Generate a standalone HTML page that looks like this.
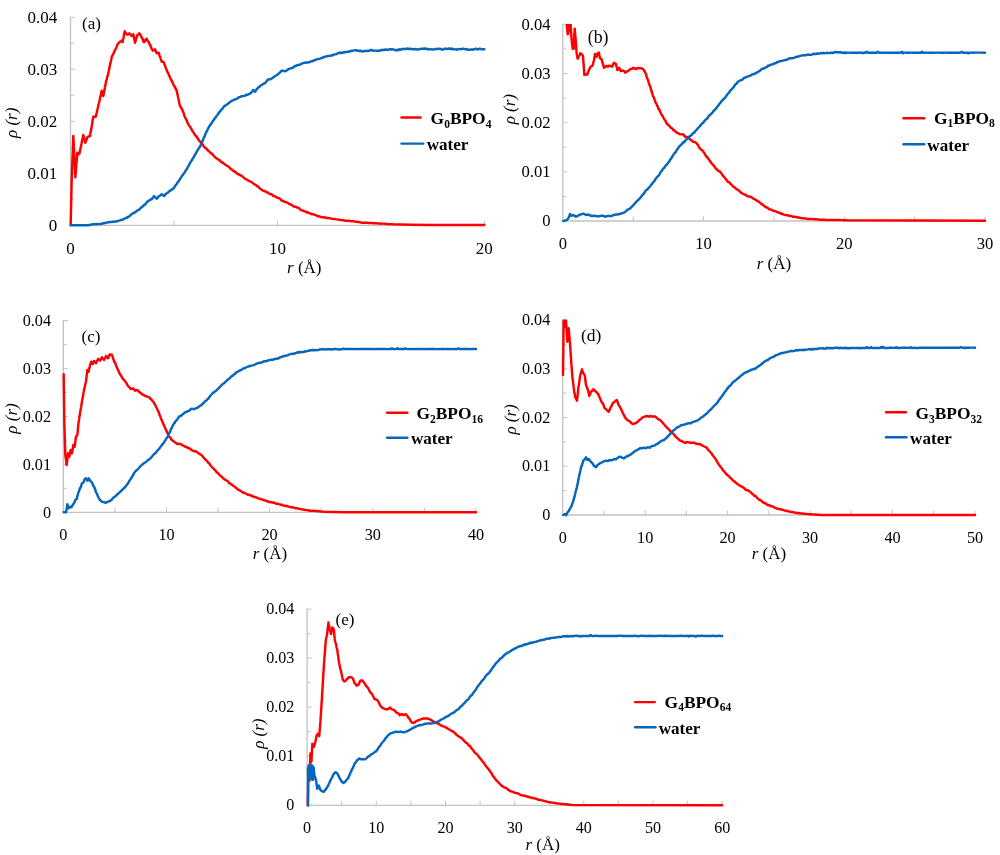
<!DOCTYPE html>
<html lang="en"><head><meta charset="utf-8"><title>Density profiles</title>
<style>html,body{margin:0;padding:0;background:#fff}svg{display:block}text{font-family:'Liberation Serif', serif;fill:#000}.t{font-size:17px}.lg{font-weight:bold}.sb{font-size:11.5px;font-weight:bold}.it{font-style:italic}.al{font-size:17px}.tg{font-size:17px}</style></head><body>
<svg width="1000" height="855" viewBox="0 0 1000 855">
<rect width="1000" height="855" fill="#fff"/>
<g id="panel-a">
<path d="M70.5,16.8 V225.3 H484.8" fill="none" stroke="#c2c2c2" stroke-width="1.3"/>
<path d="M70.5,225.3 h4.5 M70.5,199.3 h3.5 M70.5,173.3 h4.5 M70.5,147.3 h3.5 M70.5,121.3 h4.5 M70.5,95.3 h3.5 M70.5,69.3 h4.5 M70.5,43.3 h3.5 M70.5,17.3 h4.5 M173.9,225.3 v-4.5 M277.4,225.3 v-4.5 M380.9,225.3 v-4.5 M484.3,225.3 v-4.5" fill="none" stroke="#c2c2c2" stroke-width="1"/>
<text font-size="17" x="57.3" y="230.9" text-anchor="end">0</text>
<text font-size="17" x="57.3" y="178.9" text-anchor="end">0.01</text>
<text font-size="17" x="57.3" y="126.9" text-anchor="end">0.02</text>
<text font-size="17" x="57.3" y="74.9" text-anchor="end">0.03</text>
<text font-size="17" x="57.3" y="22.9" text-anchor="end">0.04</text>
<text font-size="17" x="70.5" y="253.6" text-anchor="middle">0</text>
<text font-size="17" x="277.4" y="253.6" text-anchor="middle">10</text>
<text font-size="17" x="484.3" y="253.6" text-anchor="middle">20</text>
<text class="it" font-size="17" transform="translate(16.8,122.8) rotate(-90)" text-anchor="middle">ρ (r)</text>
<text font-size="17" x="287" y="272.6"><tspan class="it">r</tspan> (Å)</text>
<text font-size="17" x="82" y="28.7">(a)</text>
<clipPath id="cp-a"><rect x="66.5" y="16.9" width="421.8" height="214.0"/></clipPath>
<g clip-path="url(#cp-a)">
<path d="M70.7,225.0 L70.7,224.0 L70.7,222.8 L70.7,221.7 L70.8,220.7 L70.8,219.3 L70.8,218.3 L70.8,217.4 L70.9,216.3 L70.9,214.9 L70.9,213.5 L70.9,212.5 L71.0,211.9 L71.0,210.0 L71.0,209.1 L71.0,208.5 L71.1,207.0 L71.1,205.6 L71.1,204.6 L71.1,204.0 L71.2,202.4 L71.2,201.3 L71.2,200.4 L71.2,199.4 L71.3,198.0 L71.3,196.5 L71.3,195.8 L71.3,194.2 L71.4,193.1 L71.4,192.1 L71.4,191.4 L71.4,189.9 L71.5,189.2 L71.5,187.6 L71.5,186.4 L71.5,185.2 L71.6,184.7 L71.6,183.7 L71.6,182.0 L71.6,180.9 L71.7,180.0 L71.7,178.5 L71.8,177.9 L71.8,176.5 L71.8,175.3 L71.9,174.6 L71.9,173.5 L72.0,172.3 L72.0,170.9 L72.0,170.2 L72.1,169.1 L72.1,167.8 L72.2,166.5 L72.2,166.1 L72.2,164.9 L72.3,163.7 L72.3,162.8 L72.4,161.4 L72.4,160.1 L72.5,158.8 L72.5,158.1 L72.5,156.9 L72.6,155.7 L72.6,155.1 L72.7,153.9 L72.7,152.2 L72.8,151.7 L72.8,149.9 L72.8,149.3 L72.9,147.9 L72.9,147.2 L73.0,146.3 L73.0,144.8 L73.0,143.9 L73.1,142.2 L73.1,141.7 L73.2,140.1 L73.2,139.3 L73.2,138.1 L73.3,136.7 L73.3,136.0 L73.4,137.3 L73.4,137.9 L73.5,139.1 L73.5,140.1 L73.6,141.7 L73.7,142.5 L73.7,143.4 L73.8,144.5 L73.8,145.8 L73.9,147.2 L73.9,147.8 L74.0,149.0 L74.0,150.7 L74.1,151.7 L74.1,152.4 L74.2,153.7 L74.3,154.7 L74.3,155.9 L74.4,157.1 L74.4,158.1 L74.5,159.2 L74.5,160.3 L74.6,161.5 L74.6,162.9 L74.7,164.3 L74.7,165.2 L74.8,166.1 L74.8,166.8 L74.9,168.1 L75.0,169.6 L75.0,170.5 L75.1,172.1 L75.1,173.2 L75.2,173.8 L75.2,175.0 L75.3,176.0 L75.3,177.3 L75.4,176.4 L75.5,174.7 L75.6,173.8 L75.7,173.2 L75.8,171.6 L75.9,171.0 L76.0,169.4 L76.1,168.7 L76.2,167.2 L76.2,165.8 L76.3,165.1 L76.4,163.6 L76.5,163.1 L76.6,161.8 L76.7,160.5 L76.8,159.8 L76.9,158.3 L77.0,157.6 L77.1,156.2 L77.2,154.6 L77.2,153.6 L77.3,152.7 L78.3,153.6 L79.3,154.0 L79.6,152.5 L79.8,152.2 L80.0,150.2 L80.3,149.8 L80.5,148.5 L80.7,147.2 L81.0,146.3 L81.2,145.1 L81.5,143.8 L81.7,142.6 L81.9,141.3 L82.2,140.7 L82.4,139.8 L82.6,138.2 L82.9,137.6 L83.1,136.0 L83.3,135.0 L83.6,135.9 L83.9,137.5 L84.2,138.7 L84.5,139.0 L84.8,140.8 L85.0,141.4 L85.3,142.7 L85.7,141.8 L86.1,140.3 L86.5,139.9 L86.9,138.3 L87.3,137.3 L88.7,136.4 L90.0,136.0 L90.2,134.5 L90.4,133.4 L90.6,132.2 L90.8,131.7 L91.0,129.9 L91.2,128.8 L91.4,127.8 L91.6,126.6 L91.8,126.0 L92.0,124.2 L92.2,123.7 L92.4,122.2 L92.5,120.9 L92.7,119.8 L92.9,119.0 L93.1,117.6 L93.3,116.7 L94.5,116.6 L95.7,116.7 L96.0,115.4 L96.3,114.3 L96.6,113.3 L96.9,111.7 L97.1,110.8 L97.4,109.7 L97.7,108.2 L98.0,107.4 L98.3,106.0 L98.6,104.5 L98.8,103.8 L99.0,102.6 L99.3,101.3 L99.5,100.7 L99.8,99.7 L100.0,98.3 L100.2,97.1 L100.5,96.5 L100.7,95.5 L101.0,94.1 L101.2,92.9 L101.4,91.9 L101.7,90.7 L102.0,91.9 L102.3,93.0 L102.7,93.9 L103.0,95.2 L103.3,96.0 L103.5,95.1 L103.7,93.9 L103.9,92.7 L104.2,91.5 L104.4,90.2 L104.6,89.4 L104.8,88.1 L105.0,87.2 L105.2,85.8 L105.4,85.3 L105.6,83.5 L105.8,83.1 L106.0,81.7 L106.3,80.5 L106.7,79.7 L107.0,78.4 L107.3,76.6 L107.7,75.5 L108.0,75.0 L108.3,73.3 L108.6,72.3 L108.8,70.7 L109.0,69.7 L109.3,68.4 L109.5,67.4 L109.8,66.1 L110.0,64.9 L110.2,63.8 L110.5,63.0 L110.7,62.1 L111.0,60.8 L111.2,59.8 L111.4,58.6 L111.7,57.3 L112.1,56.0 L112.6,55.4 L113.1,54.2 L113.6,53.1 L114.0,52.5 L114.5,51.0 L115.0,50.0 L115.6,49.1 L116.1,48.0 L116.7,46.7 L117.2,45.2 L117.8,44.2 L118.3,43.3 L119.4,42.3 L120.6,41.3 L121.7,40.7 L122.7,42.0 L122.9,40.7 L123.1,39.2 L123.3,38.7 L123.6,37.5 L123.8,36.2 L124.0,34.5 L124.2,33.4 L124.4,32.9 L124.7,31.3 L125.6,32.8 L126.4,33.8 L127.3,34.7 L128.3,34.3 L129.3,33.3 L130.1,34.0 L130.9,34.9 L131.7,36.0 L132.5,35.1 L133.3,34.3 L133.6,35.5 L133.8,36.6 L134.0,37.7 L134.3,39.4 L134.5,40.0 L134.8,41.5 L135.0,42.7 L135.3,41.9 L135.7,40.2 L136.0,39.2 L136.3,38.2 L136.7,37.0 L137.0,36.5 L137.3,35.0 L138.3,34.5 L139.3,33.3 L139.9,34.0 L140.5,34.9 L141.1,36.4 L141.7,37.3 L142.1,38.3 L142.6,38.9 L143.1,40.7 L143.5,41.7 L144.0,42.3 L144.7,41.5 L145.3,40.1 L146.0,39.3 L146.7,38.7 L147.3,40.1 L148.0,41.2 L148.7,42.1 L149.3,43.3 L149.8,44.8 L150.3,45.0 L150.8,46.6 L151.2,47.8 L151.7,48.9 L152.2,49.3 L152.7,50.7 L153.8,50.2 L155.0,49.3 L155.6,50.7 L156.1,52.1 L156.7,53.3 L158.7,52.7 L159.0,53.5 L159.4,55.3 L159.8,56.5 L160.2,56.8 L160.5,58.3 L160.9,59.4 L161.3,60.5 L161.7,61.7 L163.3,61.7 L163.8,62.6 L164.2,63.5 L164.6,65.0 L165.0,65.8 L165.4,66.8 L165.8,67.9 L166.2,68.8 L166.7,70.0 L167.1,71.4 L167.6,72.3 L168.1,72.9 L168.6,74.0 L169.0,75.3 L169.5,76.4 L170.0,77.3 L170.5,78.7 L171.0,79.7 L171.4,79.9 L171.9,81.7 L172.4,81.9 L172.9,83.4 L173.3,84.3 L173.9,85.6 L174.4,86.2 L175.0,87.3 L175.6,88.2 L176.1,89.6 L176.7,90.7 L176.9,92.1 L177.1,92.4 L177.4,94.2 L177.6,94.9 L177.9,96.5 L178.1,97.3 L178.3,98.3 L178.6,99.2 L178.8,100.8 L179.0,101.6 L179.3,102.9 L179.5,104.0 L179.8,105.2 L180.0,106.0 L180.7,107.0 L181.3,108.0 L182.0,109.2 L182.7,110.7 L183.1,111.9 L183.4,112.5 L183.8,113.6 L184.2,115.0 L184.6,116.4 L185.0,117.3 L185.6,118.2 L186.1,119.4 L186.7,120.3 L187.2,122.2 L187.8,123.3 L188.3,124.0 L189.0,125.5 L189.6,126.2 L190.2,127.0 L190.8,128.0 L191.5,129.1 L192.1,130.5 L192.7,131.3 L193.3,132.3 L194.0,133.0 L194.8,134.7 L195.5,135.7 L196.2,135.9 L196.9,137.0 L197.6,138.3 L198.3,139.3 L199.0,140.2 L199.8,141.4 L200.5,141.8 L201.2,143.4 L201.9,143.7 L202.6,144.4 L203.3,145.7 L204.2,146.9 L205.0,147.6 L205.8,148.4 L206.7,148.7 L207.5,150.3 L208.3,150.5 L209.2,151.5 L210.0,152.3 L210.8,153.4 L211.7,153.5 L212.5,154.2 L213.3,155.4 L214.2,156.1 L215.0,157.2 L215.8,158.0 L216.7,158.3 L217.6,158.9 L218.6,160.0 L219.5,160.0 L220.5,161.4 L221.4,161.9 L222.4,162.5 L223.3,163.3 L224.2,163.8 L225.2,164.6 L226.1,165.3 L227.0,165.8 L227.9,166.2 L228.8,166.9 L229.7,167.6 L230.6,169.0 L231.5,169.3 L232.4,170.0 L233.3,170.7 L234.3,171.7 L235.3,171.6 L236.3,173.0 L237.3,173.7 L238.3,173.9 L239.3,174.9 L240.3,174.9 L241.3,175.9 L242.3,176.2 L243.3,177.3 L244.3,178.1 L245.2,178.9 L246.2,179.4 L247.1,179.6 L248.1,180.5 L249.0,180.9 L250.0,181.3 L251.0,181.6 L251.9,182.5 L252.9,183.0 L253.8,183.9 L254.8,184.5 L255.7,184.9 L256.7,186.0 L257.6,186.2 L258.6,187.0 L259.5,188.1 L260.5,189.0 L261.4,189.5 L262.4,190.3 L263.3,190.7 L264.4,191.0 L265.6,191.6 L266.7,192.2 L267.8,192.5 L268.9,193.5 L270.0,194.0 L271.1,194.2 L272.2,194.7 L273.3,196.0 L274.4,196.0 L275.6,196.7 L276.7,197.3 L277.8,197.9 L278.9,198.1 L280.0,198.8 L281.1,200.1 L282.2,200.8 L283.3,201.0 L284.4,201.8 L285.6,202.1 L286.7,202.4 L287.8,202.9 L288.9,203.8 L290.0,204.3 L291.1,204.6 L292.2,205.4 L293.3,206.3 L294.4,206.7 L295.6,206.6 L296.7,207.3 L297.8,207.7 L298.9,208.0 L300.0,209.4 L301.1,210.0 L302.2,210.4 L303.3,210.7 L304.4,211.3 L305.6,211.6 L306.7,212.4 L307.8,212.3 L308.9,212.9 L310.0,213.3 L311.1,214.1 L312.2,214.2 L313.3,214.4 L314.4,214.6 L315.6,215.1 L316.7,215.7 L317.8,216.2 L318.9,216.3 L320.0,216.6 L321.1,217.0 L322.2,217.2 L323.3,217.3 L324.4,217.5 L325.6,217.4 L326.7,218.1 L327.8,217.9 L328.9,218.1 L330.0,218.2 L331.1,218.6 L332.2,218.9 L333.3,219.0 L334.4,218.9 L335.6,219.1 L336.7,219.4 L337.8,219.6 L338.9,219.6 L340.0,220.1 L341.1,220.0 L342.2,220.1 L343.3,220.3 L344.4,220.6 L345.6,220.7 L346.7,220.6 L347.8,220.7 L348.9,220.9 L350.0,220.8 L351.1,221.3 L352.2,221.1 L353.3,221.3 L354.4,221.4 L355.6,221.7 L356.7,221.8 L357.8,222.0 L358.9,222.0 L360.0,222.3 L361.1,222.5 L362.2,222.7 L363.3,222.7 L364.4,222.6 L365.6,222.7 L366.7,222.8 L367.8,222.9 L368.9,222.9 L370.0,223.0 L371.1,223.0 L372.2,223.0 L373.3,223.2 L374.4,223.1 L375.6,223.3 L376.7,223.3 L377.8,223.5 L378.9,223.4 L380.0,223.6 L381.1,223.7 L382.2,223.6 L383.3,223.6 L384.4,223.8 L385.6,223.8 L386.7,224.0 L387.8,224.1 L388.9,224.2 L390.0,224.1 L391.1,224.1 L392.2,224.2 L393.3,224.3 L410.0,224.7 L430.0,225.0 L484.3,225.0" fill="none" stroke="#ff0000" stroke-width="2.45" stroke-linejoin="round" stroke-linecap="round"/>
<path d="M70.7,225.3 L88.3,225.3 L93.3,224.3 L94.4,224.3 L95.6,224.2 L96.7,224.2 L97.8,224.0 L98.9,224.1 L100.0,224.0 L101.2,223.8 L102.5,223.5 L103.8,223.2 L105.0,223.0 L106.2,222.8 L107.5,222.4 L108.8,222.2 L110.0,222.0 L111.1,222.0 L112.2,222.0 L113.3,221.5 L114.4,221.7 L115.6,221.5 L116.7,221.3 L117.8,221.0 L118.9,220.6 L120.0,220.4 L121.1,220.0 L122.2,219.8 L123.3,219.3 L124.3,218.9 L125.3,218.1 L126.3,217.9 L127.3,217.5 L128.3,216.7 L129.3,216.3 L130.3,215.4 L131.3,214.3 L132.3,213.6 L133.3,213.3 L134.3,212.3 L135.3,212.4 L136.3,211.2 L137.3,210.5 L138.3,210.0 L139.3,209.6 L140.3,208.2 L141.3,207.6 L142.3,206.7 L143.3,206.0 L144.2,204.8 L145.0,204.4 L145.8,203.8 L146.7,202.4 L147.5,201.6 L148.3,201.0 L149.4,200.4 L150.6,199.5 L151.7,199.3 L152.4,198.2 L153.2,197.4 L154.0,196.0 L154.9,197.0 L155.8,197.8 L156.7,198.7 L157.6,198.1 L158.4,196.6 L159.3,196.0 L160.5,195.2 L161.7,194.3 L162.8,195.1 L164.0,196.0 L164.9,195.2 L165.8,193.9 L166.7,193.3 L167.8,192.8 L168.9,191.4 L170.0,191.0 L171.1,189.8 L172.2,189.5 L173.3,188.3 L174.2,187.7 L175.0,186.1 L175.8,185.0 L176.7,184.0 L177.3,182.8 L178.0,181.9 L178.7,181.3 L179.3,180.0 L180.0,179.3 L180.7,177.9 L181.3,177.2 L182.0,175.8 L182.7,175.2 L183.3,174.0 L184.0,173.4 L184.7,172.4 L185.3,171.2 L186.0,170.1 L186.7,169.3 L187.2,168.3 L187.8,166.9 L188.3,166.5 L188.9,165.2 L189.4,164.2 L190.0,163.3 L190.7,161.8 L191.3,161.0 L192.0,160.0 L192.7,158.7 L193.3,157.7 L193.9,157.0 L194.4,155.8 L195.0,154.4 L195.6,153.7 L196.1,153.0 L196.7,151.7 L197.3,150.7 L198.0,149.8 L198.7,148.3 L199.3,147.7 L200.0,146.7 L200.5,145.6 L200.9,144.6 L201.4,143.6 L201.9,142.7 L202.3,141.7 L202.8,140.6 L203.2,139.4 L203.7,138.0 L204.1,137.2 L204.6,136.5 L205.0,135.0 L205.6,133.8 L206.1,132.4 L206.7,131.2 L207.2,130.6 L207.8,129.0 L208.3,128.3 L209.0,126.8 L209.7,125.7 L210.3,124.9 L211.0,124.2 L211.7,122.7 L212.5,121.6 L213.3,120.5 L214.2,119.4 L215.0,118.3 L215.7,117.3 L216.3,116.3 L217.0,115.5 L217.7,114.7 L218.3,113.3 L219.2,112.5 L220.0,111.3 L220.8,110.5 L221.7,109.3 L222.5,108.8 L223.3,107.2 L224.2,106.3 L225.0,105.7 L226.1,105.0 L227.2,104.3 L228.3,103.3 L229.4,102.6 L230.6,101.6 L231.7,100.7 L232.8,100.5 L233.9,99.8 L235.0,99.3 L236.1,99.1 L237.2,98.6 L238.3,97.7 L239.4,97.1 L240.6,96.9 L241.7,96.0 L242.8,96.1 L243.9,96.1 L245.0,95.7 L246.1,94.8 L247.2,95.1 L248.3,94.3 L250.0,93.7 L250.8,93.0 L251.7,92.2 L252.5,91.3 L253.3,90.0 L254.2,90.6 L255.0,91.7 L255.8,90.7 L256.7,89.2 L257.5,88.5 L258.3,87.3 L259.4,86.9 L260.6,85.5 L261.7,85.0 L262.8,84.3 L263.9,83.5 L265.0,83.3 L265.8,82.1 L266.7,81.1 L267.5,80.0 L268.3,79.3 L269.4,79.6 L270.6,79.2 L271.7,78.7 L272.8,77.7 L273.9,77.1 L275.0,76.0 L276.1,75.5 L277.2,74.7 L278.3,74.0 L279.2,73.1 L280.0,72.5 L280.8,71.5 L281.7,70.7 L282.8,70.7 L283.9,71.0 L285.0,71.3 L286.1,70.8 L287.2,70.1 L288.3,69.3 L289.4,68.6 L290.6,68.5 L291.7,68.0 L292.8,67.7 L293.9,67.0 L295.0,66.0 L296.2,65.8 L297.5,64.9 L298.8,64.9 L300.0,64.7 L301.2,63.8 L302.5,63.3 L303.8,62.9 L305.0,62.7 L306.2,62.5 L307.5,62.6 L308.8,62.3 L310.0,62.0 L311.2,61.3 L312.5,61.2 L313.8,60.5 L315.0,60.0 L316.2,59.7 L317.5,59.1 L318.8,58.9 L320.0,58.7 L321.2,58.0 L322.5,57.9 L323.8,57.2 L325.0,56.7 L326.1,56.4 L327.2,56.2 L328.3,56.0 L329.4,55.9 L330.6,55.8 L331.7,55.3 L332.8,55.2 L333.9,54.5 L335.0,54.4 L336.1,54.2 L337.2,53.8 L338.3,53.0 L339.4,53.1 L340.6,52.4 L341.7,53.0 L342.8,52.9 L343.9,52.0 L345.0,52.3 L346.1,52.0 L347.2,51.7 L348.3,51.9 L349.4,51.5 L350.6,51.0 L351.7,51.0 L352.9,50.6 L354.2,50.4 L355.4,50.1 L356.7,50.3 L357.8,50.8 L358.9,51.1 L360.0,50.6 L361.1,51.2 L362.2,51.6 L363.3,51.3 L364.4,50.9 L365.6,51.1 L366.7,50.8 L367.8,51.1 L368.9,50.8 L370.0,50.3 L371.1,50.0 L372.2,50.2 L373.3,50.8 L374.4,50.6 L375.6,50.6 L376.7,50.7 L377.8,50.8 L378.9,50.7 L380.0,50.7 L381.1,50.1 L382.2,49.7 L383.3,50.0 L384.4,50.1 L385.6,49.4 L386.7,49.7 L387.8,49.9 L388.9,49.4 L390.0,49.3 L391.1,49.5 L392.2,49.3 L393.3,49.4 L394.4,49.9 L395.6,50.2 L396.7,50.0 L397.8,50.3 L398.9,49.2 L400.0,49.9 L401.1,49.3 L402.2,49.0 L403.3,49.0 L404.4,48.9 L405.6,49.0 L406.7,48.7 L407.8,48.5 L408.9,49.1 L410.0,48.7 L411.1,49.0 L412.2,49.0 L413.3,49.2 L414.4,49.5 L415.6,48.9 L416.7,49.3 L417.8,49.5 L418.9,49.4 L420.0,48.9 L421.1,48.9 L422.2,48.7 L423.3,48.7 L424.4,48.5 L425.6,48.8 L426.7,48.7 L427.8,49.5 L428.9,48.9 L430.0,49.3 L431.1,49.4 L432.2,49.3 L433.3,49.6 L434.4,49.4 L435.6,48.9 L436.7,49.0 L437.8,48.9 L438.9,48.7 L440.0,48.8 L441.1,49.1 L442.2,49.7 L443.3,49.3 L444.4,48.8 L445.6,48.8 L446.7,49.1 L447.8,48.8 L448.9,48.5 L450.0,48.7 L451.1,49.2 L452.2,48.6 L453.3,49.3 L454.4,49.3 L455.6,49.4 L456.7,49.7 L457.8,49.2 L458.9,49.0 L460.0,49.1 L461.1,49.2 L462.2,48.8 L463.3,48.7 L464.4,49.1 L465.6,49.3 L466.7,48.9 L467.8,49.7 L468.9,49.6 L470.0,49.7 L471.1,49.5 L472.2,49.5 L473.3,49.7 L474.4,49.1 L475.6,48.7 L476.7,49.0 L477.9,49.5 L479.2,48.8 L480.5,48.8 L481.8,49.4 L483.1,49.1 L484.3,49.3" fill="none" stroke="#0566bd" stroke-width="2.45" stroke-linejoin="round" stroke-linecap="round"/>
</g>
<path d="M401.5,117.5 h19.1" stroke="#ff0000" stroke-width="2.45" stroke-linecap="round"/>
<path d="M401.5,143.6 h21.7" stroke="#0566bd" stroke-width="2.45" stroke-linecap="round"/>
<text class="lg" font-size="17.4" x="430.6" y="124.3">G<tspan class="sb" dy="3.5">0</tspan><tspan dy="-3.5">BPO</tspan><tspan class="sb" dy="3.5">4</tspan></text>
<text class="lg" font-size="17.1" x="426.7" y="150.4">water</text>
</g>
<g id="panel-b">
<path d="M562.8,23.8 V221 H985.5" fill="none" stroke="#c2c2c2" stroke-width="1.3"/>
<path d="M562.8,221.0 h4.5 M562.8,196.4 h3.5 M562.8,171.8 h4.5 M562.8,147.2 h3.5 M562.8,122.7 h4.5 M562.8,98.1 h3.5 M562.8,73.5 h4.5 M562.8,48.9 h3.5 M562.8,24.3 h4.5 M633.2,221 v-4.5 M703.5,221 v-4.5 M773.9,221 v-4.5 M844.3,221 v-4.5 M914.6,221 v-4.5 M985.0,221 v-4.5" fill="none" stroke="#c2c2c2" stroke-width="1"/>
<text font-size="16.6" x="550.6" y="226.2" text-anchor="end">0</text>
<text font-size="16.6" x="550.6" y="177.0" text-anchor="end">0.01</text>
<text font-size="16.6" x="550.6" y="127.9" text-anchor="end">0.02</text>
<text font-size="16.6" x="550.6" y="78.7" text-anchor="end">0.03</text>
<text font-size="16.6" x="550.6" y="29.5" text-anchor="end">0.04</text>
<text font-size="16.6" x="562.8" y="249.3" text-anchor="middle">0</text>
<text font-size="16.6" x="703.5" y="249.3" text-anchor="middle">10</text>
<text font-size="16.6" x="844.3" y="249.3" text-anchor="middle">20</text>
<text font-size="16.6" x="985.0" y="249.3" text-anchor="middle">30</text>
<text class="it" font-size="17" transform="translate(514.5,109.2) rotate(-90)" text-anchor="middle">ρ (r)</text>
<text font-size="17" x="756.7" y="269.3"><tspan class="it">r</tspan> (Å)</text>
<text font-size="17.8" x="587.8" y="43.0">(b)</text>
<clipPath id="cp-b"><rect x="558.8" y="23.9" width="430.2" height="202.7"/></clipPath>
<g clip-path="url(#cp-b)">
<path d="M566.3,18.3 L566.4,19.2 L566.5,20.8 L566.5,21.9 L566.6,22.8 L566.7,24.0 L566.8,24.9 L566.9,26.6 L567.0,27.7 L567.1,28.6 L567.2,29.7 L567.3,30.7 L567.4,31.6 L567.6,33.1 L567.7,34.3 L568.3,33.3 L568.4,32.3 L568.5,30.6 L568.6,30.1 L568.6,28.5 L568.7,27.3 L568.8,26.0 L568.9,25.7 L568.9,24.3 L569.0,23.3 L569.1,21.9 L569.2,20.2 L569.3,19.3 L569.3,18.3 L570.3,18.3 L570.4,19.5 L570.5,20.3 L570.5,22.2 L570.6,22.8 L570.6,23.8 L570.7,25.5 L570.8,26.0 L570.8,27.9 L570.9,28.6 L571.0,29.8 L571.0,30.8 L571.1,32.1 L571.1,32.9 L571.2,34.0 L571.3,35.9 L571.3,36.7 L571.5,37.6 L571.6,39.3 L571.7,40.0 L571.9,41.9 L572.0,43.0 L572.1,44.1 L572.3,45.3 L572.4,46.3 L572.5,47.7 L572.7,48.7 L573.7,48.7 L573.7,47.2 L573.8,46.4 L573.8,45.6 L573.9,44.0 L573.9,43.5 L574.0,42.3 L574.1,40.8 L574.1,39.7 L574.2,38.6 L574.2,37.5 L574.3,36.9 L574.3,35.2 L574.4,33.8 L574.4,32.7 L574.5,32.2 L574.6,31.3 L574.6,29.8 L574.7,28.7 L574.8,29.8 L574.9,31.0 L575.0,32.3 L575.1,32.9 L575.2,34.4 L575.3,35.5 L575.4,36.7 L575.5,37.4 L575.6,38.6 L575.7,40.0 L575.8,41.0 L575.8,42.6 L575.9,43.2 L576.0,44.5 L576.1,45.4 L576.2,46.3 L576.2,47.4 L576.3,49.2 L576.4,50.2 L576.5,51.0 L576.6,52.4 L576.7,53.3 L576.9,54.8 L577.2,56.4 L577.4,57.7 L577.7,58.7 L578.3,57.2 L579.0,56.0 L579.7,55.1 L580.3,53.3 L582.0,54.3 L583.0,56.0 L583.1,57.5 L583.2,58.3 L583.2,59.7 L583.3,60.5 L583.4,61.5 L583.5,62.5 L583.6,64.2 L583.7,65.0 L583.7,65.8 L583.8,66.8 L583.9,68.6 L584.0,69.7 L584.0,70.5 L584.1,72.0 L584.2,72.4 L584.3,73.7 L584.3,75.0 L586.0,74.0 L587.3,74.7 L587.7,73.4 L588.1,72.5 L588.5,71.2 L588.9,70.0 L589.3,69.3 L590.0,67.9 L590.7,66.7 L591.7,66.2 L592.7,65.0 L593.0,64.2 L593.3,62.7 L593.7,61.2 L594.0,60.0 L594.2,58.6 L594.4,58.0 L594.6,56.4 L594.8,55.4 L595.0,54.0 L595.8,54.9 L596.7,56.7 L597.0,55.3 L597.3,54.7 L597.7,53.3 L599.0,52.7 L599.2,54.1 L599.4,55.3 L599.6,56.2 L599.8,57.1 L600.0,58.3 L601.7,59.3 L602.0,60.7 L602.3,62.3 L602.7,63.3 L603.0,64.2 L603.3,65.5 L603.7,66.4 L604.0,67.7 L605.0,67.1 L606.0,66.0 L608.0,66.7 L609.0,65.7 L610.0,65.7 L611.0,66.3 L612.0,66.7 L612.5,66.1 L613.0,64.2 L613.5,63.8 L614.0,62.7 L615.0,63.5 L616.0,64.0 L616.3,65.5 L616.5,66.5 L616.8,67.4 L617.1,68.7 L617.3,70.0 L618.3,69.2 L619.3,67.7 L619.8,69.1 L620.2,69.6 L620.7,71.0 L622.0,70.5 L623.3,70.7 L624.3,71.3 L625.3,72.7 L626.3,71.7 L627.3,71.5 L628.3,71.0 L629.5,69.7 L630.7,69.0 L632.0,68.7 L633.3,67.7 L634.7,68.5 L636.0,69.0 L637.3,68.2 L638.7,68.0 L640.0,68.2 L641.3,68.3 L642.3,68.7 L643.3,69.3 L644.0,70.4 L644.7,71.3 L645.3,72.7 L645.7,73.5 L646.1,74.6 L646.5,76.0 L646.9,77.4 L647.3,78.3 L647.7,79.5 L648.1,80.1 L648.5,81.8 L648.9,83.1 L649.2,84.1 L649.6,85.2 L650.0,86.0 L650.3,86.7 L650.7,88.2 L651.0,89.0 L651.3,90.7 L651.7,91.3 L652.0,92.9 L652.3,93.7 L652.7,95.0 L653.1,96.3 L653.6,97.1 L654.0,97.9 L654.4,99.3 L654.9,100.4 L655.3,101.7 L655.9,103.2 L656.4,103.7 L656.9,105.1 L657.5,106.2 L658.0,107.3 L658.5,108.8 L659.1,109.1 L659.6,110.6 L660.1,111.6 L660.7,112.7 L661.3,114.0 L662.0,115.4 L662.7,116.0 L663.3,117.3 L663.9,118.5 L664.4,119.4 L665.0,120.4 L665.6,120.9 L666.1,122.6 L666.7,123.3 L667.5,124.6 L668.3,124.9 L669.2,125.7 L670.0,126.7 L670.8,127.9 L671.7,128.0 L672.5,128.8 L673.3,130.0 L674.4,130.4 L675.6,131.8 L676.7,132.3 L677.8,133.2 L678.9,133.6 L680.0,134.3 L681.3,134.4 L682.7,134.3 L683.6,134.7 L684.4,136.0 L685.3,136.7 L686.8,136.9 L688.3,137.3 L689.1,138.2 L689.9,139.0 L690.7,140.0 L692.0,140.7 L693.3,141.7 L694.4,142.0 L695.6,142.4 L696.7,143.3 L697.3,144.3 L698.0,145.1 L698.7,146.5 L699.3,147.6 L700.0,148.3 L700.8,149.4 L701.7,150.0 L702.5,150.6 L703.3,151.7 L704.0,152.6 L704.7,153.7 L705.3,154.8 L706.0,156.1 L706.7,156.7 L707.5,157.4 L708.3,158.8 L709.2,159.9 L710.0,161.0 L710.8,162.2 L711.7,163.4 L712.5,164.3 L713.3,165.0 L714.2,166.2 L715.0,167.4 L715.8,168.4 L716.7,169.3 L717.8,170.4 L718.9,171.1 L720.0,171.7 L720.8,172.9 L721.7,173.6 L722.5,175.3 L723.3,176.0 L724.2,176.9 L725.0,178.1 L725.8,179.3 L726.7,180.0 L727.5,181.3 L728.3,182.1 L729.2,182.1 L730.0,183.3 L730.8,184.0 L731.7,184.8 L732.5,185.7 L733.3,186.7 L734.4,187.2 L735.6,188.5 L736.7,189.3 L737.8,189.7 L738.9,190.7 L740.0,191.7 L741.1,192.8 L742.2,193.4 L743.3,194.0 L744.4,194.5 L745.6,194.8 L746.7,195.7 L747.8,196.4 L748.9,196.5 L750.0,196.7 L751.0,196.9 L752.0,197.6 L753.0,198.4 L754.0,199.0 L755.0,199.3 L756.0,199.8 L757.0,201.1 L758.0,201.2 L759.0,201.8 L760.0,202.7 L761.0,203.8 L762.0,204.0 L763.0,205.2 L764.0,205.6 L765.0,206.7 L766.0,207.3 L767.0,207.5 L768.0,208.2 L769.0,209.2 L770.0,209.3 L771.1,209.7 L772.2,210.2 L773.3,210.8 L774.4,210.9 L775.6,211.3 L776.7,212.0 L777.8,212.3 L778.9,212.6 L780.0,213.0 L781.1,213.8 L782.2,213.7 L783.3,214.3 L784.4,214.8 L785.6,215.1 L786.7,215.3 L787.8,215.2 L788.9,215.7 L790.0,216.0 L791.1,216.0 L792.2,216.5 L793.3,216.7 L794.4,216.8 L795.6,216.9 L796.7,217.3 L797.8,217.5 L798.9,217.5 L800.0,217.8 L801.1,218.0 L802.2,218.3 L803.3,218.3 L804.4,218.4 L805.6,218.4 L806.7,218.7 L807.8,218.9 L808.9,218.9 L810.0,219.0 L811.1,218.9 L812.2,219.0 L813.3,219.1 L814.4,219.2 L815.6,219.2 L816.7,219.3 L817.8,219.5 L818.9,219.6 L820.0,219.7 L821.1,219.7 L822.2,219.6 L823.3,219.8 L824.4,219.8 L825.6,220.0 L826.7,220.0 L827.8,220.0 L828.9,220.1 L830.0,219.9 L831.1,219.9 L832.2,220.1 L833.3,220.0 L834.4,220.0 L835.6,220.0 L836.7,220.0 L837.8,220.1 L838.9,220.0 L840.0,220.1 L841.1,220.1 L842.2,220.1 L843.3,220.2 L844.4,220.3 L845.6,220.2 L846.7,220.3 L985.0,220.7" fill="none" stroke="#ff0000" stroke-width="2.45" stroke-linejoin="round" stroke-linecap="round"/>
<path d="M563.3,221.0 L564.4,220.7 L565.6,220.3 L566.7,220.0 L567.5,219.3 L568.3,218.3 L568.8,217.2 L569.2,216.2 L569.6,215.1 L570.0,214.0 L570.7,214.8 L571.3,216.0 L572.3,215.5 L573.3,215.0 L574.7,215.9 L576.0,216.7 L577.3,216.1 L578.7,215.3 L580.0,214.6 L581.3,214.3 L583.3,213.7 L584.7,214.2 L586.0,215.0 L587.3,214.6 L588.7,214.7 L590.2,215.5 L591.7,216.0 L592.8,216.0 L593.9,215.6 L595.0,215.7 L596.1,216.1 L597.2,216.3 L598.3,216.3 L599.4,216.2 L600.6,215.9 L601.7,215.7 L602.8,215.8 L603.9,216.1 L605.0,216.7 L606.1,216.5 L607.2,216.0 L608.3,216.0 L609.4,215.9 L610.6,215.9 L611.7,216.0 L612.8,215.3 L613.9,215.1 L615.0,214.7 L616.1,214.5 L617.2,214.6 L618.3,214.3 L619.4,214.0 L620.6,213.8 L621.7,213.3 L622.8,212.9 L623.9,212.6 L625.0,212.0 L626.1,211.1 L627.2,210.0 L628.3,209.3 L629.4,208.9 L630.6,208.0 L631.7,206.7 L632.5,206.1 L633.3,205.2 L634.2,204.0 L635.0,203.3 L635.8,202.3 L636.7,201.5 L637.5,200.4 L638.3,200.0 L639.2,199.2 L640.0,197.9 L640.8,197.3 L641.7,196.0 L642.5,194.8 L643.3,194.2 L644.2,193.1 L645.0,191.7 L645.8,190.4 L646.7,189.7 L647.5,189.5 L648.3,188.3 L649.2,187.3 L650.0,186.8 L650.8,185.2 L651.7,184.3 L652.5,182.9 L653.3,182.3 L654.2,181.3 L655.0,180.0 L655.8,178.7 L656.7,177.5 L657.5,176.6 L658.3,175.7 L659.0,175.2 L659.7,174.0 L660.3,172.5 L661.0,171.7 L661.7,171.0 L662.5,169.6 L663.3,168.4 L664.2,168.0 L665.0,166.7 L665.8,165.4 L666.7,164.7 L667.5,163.6 L668.3,162.7 L669.0,161.4 L669.7,160.9 L670.3,159.3 L671.0,158.8 L671.7,157.7 L672.3,156.3 L673.0,155.6 L673.7,154.4 L674.3,153.5 L675.0,152.7 L675.7,152.1 L676.3,150.9 L677.0,149.5 L677.7,149.0 L678.3,147.7 L679.2,146.5 L680.0,145.7 L680.8,145.2 L681.7,144.0 L682.5,143.4 L683.3,142.1 L684.2,142.2 L685.0,141.0 L685.8,139.9 L686.7,139.1 L687.5,138.7 L688.3,137.7 L689.4,136.6 L690.6,135.7 L691.7,135.0 L692.5,133.8 L693.3,133.0 L694.2,132.6 L695.0,131.7 L695.8,130.4 L696.7,129.8 L697.5,128.6 L698.3,127.7 L699.2,126.7 L700.0,126.2 L700.8,124.9 L701.7,124.0 L702.5,123.2 L703.3,122.7 L704.2,121.2 L705.0,120.7 L705.8,119.4 L706.7,119.0 L707.5,118.0 L708.3,116.7 L709.2,115.6 L710.0,114.7 L710.8,114.4 L711.7,113.3 L712.5,112.7 L713.3,111.1 L714.2,110.7 L715.0,109.3 L715.8,108.8 L716.7,107.6 L717.5,106.5 L718.3,105.7 L719.0,104.4 L719.7,103.4 L720.3,103.3 L721.0,101.7 L721.7,101.0 L722.5,100.4 L723.3,99.1 L724.2,98.8 L725.0,97.7 L725.8,96.7 L726.7,95.3 L727.5,94.1 L728.3,93.3 L729.2,92.5 L730.0,90.9 L730.8,90.1 L731.7,89.3 L732.5,88.3 L733.3,87.5 L734.2,86.2 L735.0,85.0 L735.8,84.0 L736.7,83.7 L737.5,82.2 L738.3,81.7 L739.4,80.7 L740.6,80.3 L741.7,80.0 L742.8,79.2 L743.9,78.0 L745.0,77.7 L746.1,76.9 L747.2,76.7 L748.3,76.3 L750.0,75.7 L751.0,75.3 L752.0,74.4 L753.0,74.1 L754.0,74.2 L755.0,73.3 L756.0,73.2 L757.0,72.4 L758.0,71.9 L759.0,71.3 L760.0,70.7 L761.0,69.7 L762.0,69.0 L763.0,68.4 L764.0,68.6 L765.0,67.7 L766.0,67.3 L767.0,67.0 L768.0,65.6 L769.0,65.7 L770.0,65.0 L771.2,64.6 L772.5,64.4 L773.8,63.6 L775.0,63.3 L776.0,63.3 L777.0,62.0 L778.0,62.0 L779.0,61.7 L780.0,61.0 L781.2,61.1 L782.5,60.7 L783.8,60.4 L785.0,60.0 L786.2,59.8 L787.5,59.5 L788.8,58.6 L790.0,58.3 L791.2,58.2 L792.5,58.2 L793.8,57.9 L795.0,57.3 L796.2,56.8 L797.5,56.8 L798.8,56.4 L800.0,55.7 L801.1,55.6 L802.2,55.6 L803.3,55.2 L804.4,55.3 L805.6,55.2 L806.7,55.0 L807.8,54.5 L808.9,54.8 L810.0,54.9 L811.1,54.7 L812.2,54.4 L813.3,54.0 L814.4,53.8 L815.6,54.0 L816.7,53.7 L817.8,53.5 L818.9,53.7 L820.0,53.3 L821.2,52.9 L822.4,53.5 L823.6,52.8 L824.8,53.2 L826.0,53.1 L827.1,52.8 L828.3,53.0 L829.5,53.1 L830.7,52.8 L831.9,52.8 L833.1,53.0 L834.3,52.3 L835.5,52.0 L836.7,52.3 L837.8,52.2 L838.9,52.6 L840.0,52.2 L841.1,52.2 L842.2,52.9 L843.3,52.7 L844.4,52.5 L845.6,53.0 L846.7,52.7 L847.8,52.6 L848.9,52.6 L850.0,52.7 L851.1,52.7 L852.2,52.7 L853.3,52.6 L854.4,52.7 L855.5,52.7 L856.6,52.6 L857.7,52.7 L858.8,52.6 L859.9,52.7 L861.1,52.6 L862.2,52.8 L863.3,53.2 L864.4,52.6 L865.5,52.7 L866.6,51.8 L867.7,52.6 L868.8,52.7 L869.9,52.7 L871.0,52.8 L872.1,52.6 L873.2,52.7 L874.3,52.6 L875.4,52.7 L876.5,52.7 L877.7,51.8 L878.8,52.6 L879.9,52.7 L881.0,52.7 L882.1,52.6 L883.2,52.7 L884.3,52.8 L885.4,52.6 L886.5,52.7 L887.6,52.6 L888.7,52.7 L889.8,52.8 L890.9,52.7 L892.0,52.7 L893.1,52.7 L894.3,52.6 L895.4,52.8 L896.5,52.7 L897.6,52.6 L898.7,52.7 L899.8,52.6 L900.9,52.7 L902.0,51.8 L903.1,53.3 L904.2,52.6 L905.3,52.6 L906.4,52.7 L907.5,52.7 L908.6,52.8 L909.7,52.8 L910.9,52.6 L912.0,52.6 L913.1,52.7 L914.2,52.7 L915.3,52.6 L916.4,52.7 L917.5,52.6 L918.6,52.8 L919.7,52.7 L920.8,52.7 L921.9,51.8 L923.0,52.7 L924.1,52.7 L925.2,52.7 L926.3,52.6 L927.5,52.6 L928.6,52.8 L929.7,52.7 L930.8,52.7 L931.9,52.7 L933.0,52.6 L934.1,52.7 L935.2,52.6 L936.3,52.6 L937.4,52.6 L938.5,52.6 L939.6,52.7 L940.7,52.7 L941.8,52.7 L942.9,52.6 L944.1,52.7 L945.2,52.6 L946.3,52.6 L947.4,52.7 L948.5,52.7 L949.6,52.7 L950.7,52.6 L951.8,52.7 L952.9,52.6 L954.0,52.8 L955.1,52.8 L956.2,52.6 L957.3,52.7 L958.4,52.6 L959.5,52.7 L960.7,52.6 L961.8,51.8 L962.9,52.7 L964.0,52.7 L965.1,52.7 L966.2,52.6 L967.3,52.7 L968.4,53.3 L969.5,52.7 L970.6,52.7 L971.7,52.6 L972.8,52.6 L973.9,52.7 L975.0,52.6 L976.1,52.6 L977.3,52.6 L978.4,52.6 L979.5,52.6 L980.6,52.6 L981.7,52.6 L982.8,52.6 L983.9,52.7 L985.0,52.7" fill="none" stroke="#0566bd" stroke-width="2.45" stroke-linejoin="round" stroke-linecap="round"/>
</g>
<path d="M903.5,118.3 h20.7" stroke="#ff0000" stroke-width="2.45" stroke-linecap="round"/>
<path d="M903.5,144.3 h20.7" stroke="#0566bd" stroke-width="2.45" stroke-linecap="round"/>
<text class="lg" font-size="17.4" x="934" y="123.6">G<tspan class="sb" dy="3.5">1</tspan><tspan dy="-3.5">BPO</tspan><tspan class="sb" dy="3.5">8</tspan></text>
<text class="lg" font-size="17.1" x="927.3" y="151">water</text>
</g>
<g id="panel-c">
<path d="M63.3,320.2 V512.3 H476.5" fill="none" stroke="#c2c2c2" stroke-width="1.3"/>
<path d="M63.3,512.3 h4.5 M63.3,488.3 h3.5 M63.3,464.4 h4.5 M63.3,440.4 h3.5 M63.3,416.5 h4.5 M63.3,392.5 h3.5 M63.3,368.6 h4.5 M63.3,344.6 h3.5 M63.3,320.7 h4.5 M114.9,512.3 v-4.5 M166.5,512.3 v-4.5 M218.1,512.3 v-4.5 M269.6,512.3 v-4.5 M321.2,512.3 v-4.5 M372.8,512.3 v-4.5 M424.4,512.3 v-4.5 M476.0,512.3 v-4.5" fill="none" stroke="#c2c2c2" stroke-width="1"/>
<text font-size="16.2" x="51" y="517.9" text-anchor="end">0</text>
<text font-size="16.2" x="51" y="470.0" text-anchor="end">0.01</text>
<text font-size="16.2" x="51" y="422.1" text-anchor="end">0.02</text>
<text font-size="16.2" x="51" y="374.2" text-anchor="end">0.03</text>
<text font-size="16.2" x="51" y="326.3" text-anchor="end">0.04</text>
<text font-size="16.2" x="63.3" y="540" text-anchor="middle">0</text>
<text font-size="16.2" x="166.5" y="540" text-anchor="middle">10</text>
<text font-size="16.2" x="269.6" y="540" text-anchor="middle">20</text>
<text font-size="16.2" x="372.8" y="540" text-anchor="middle">30</text>
<text font-size="16.2" x="476.0" y="540" text-anchor="middle">40</text>
<text class="it" font-size="17" transform="translate(16.7,418.5) rotate(-90)" text-anchor="middle">ρ (r)</text>
<text font-size="17" x="252.7" y="559.3"><tspan class="it">r</tspan> (Å)</text>
<text font-size="17" x="81.5" y="342.4">(c)</text>
<clipPath id="cp-c"><rect x="59.3" y="320.3" width="420.7" height="197.6"/></clipPath>
<g clip-path="url(#cp-c)">
<path d="M63.7,374.3 L63.7,375.9 L63.7,376.2 L63.7,377.2 L63.7,379.2 L63.7,379.6 L63.8,380.7 L63.8,382.3 L63.8,383.1 L63.8,384.7 L63.8,385.2 L63.8,387.0 L63.8,387.5 L63.9,388.9 L63.9,390.3 L63.9,391.2 L63.9,392.5 L63.9,393.5 L63.9,394.0 L64.0,395.8 L64.0,396.7 L64.0,397.5 L64.0,398.6 L64.0,400.3 L64.0,401.1 L64.0,402.6 L64.1,403.5 L64.1,404.8 L64.1,405.6 L64.1,406.8 L64.1,407.8 L64.1,408.6 L64.2,410.4 L64.2,410.9 L64.2,412.4 L64.2,413.7 L64.2,414.6 L64.2,415.2 L64.2,416.9 L64.3,417.9 L64.3,418.6 L64.3,419.6 L64.3,421.1 L64.3,421.8 L64.3,423.3 L64.4,424.8 L64.4,425.6 L64.4,426.7 L64.5,427.8 L64.5,429.1 L64.5,430.5 L64.6,431.1 L64.6,432.3 L64.7,433.6 L64.7,434.5 L64.7,435.9 L64.8,436.9 L64.8,438.0 L64.8,439.3 L64.9,440.3 L64.9,441.1 L64.9,443.0 L65.0,443.6 L65.0,444.8 L65.0,445.9 L65.1,447.5 L65.1,448.6 L65.2,449.4 L65.2,450.4 L65.2,451.2 L65.3,453.1 L65.3,453.6 L65.3,455.0 L65.5,456.2 L65.6,457.1 L65.8,458.2 L65.9,459.3 L66.1,460.3 L66.2,461.2 L66.4,462.8 L66.5,464.2 L66.7,465.0 L66.8,464.0 L66.9,462.4 L67.1,461.7 L67.2,459.9 L67.3,459.1 L67.5,458.3 L67.6,457.2 L67.7,455.6 L67.9,454.8 L68.0,453.3 L68.4,454.4 L68.9,455.6 L69.3,456.7 L69.6,455.6 L69.8,454.9 L70.0,453.6 L70.2,452.2 L70.4,451.3 L70.7,450.0 L71.1,451.2 L71.6,452.1 L72.0,453.3 L72.2,452.4 L72.4,451.2 L72.6,449.9 L72.8,449.0 L73.0,446.9 L73.1,446.2 L73.3,445.0 L74.7,446.7 L74.8,445.7 L75.0,444.3 L75.1,443.0 L75.3,442.4 L75.4,441.1 L75.6,439.8 L75.7,438.5 L75.9,438.2 L76.0,436.7 L77.3,435.0 L77.4,433.8 L77.6,432.4 L77.7,431.4 L77.8,430.3 L77.9,429.8 L78.0,428.0 L78.1,427.0 L78.2,425.7 L78.3,425.0 L78.4,423.6 L78.6,422.6 L78.7,421.7 L78.9,420.7 L79.0,419.7 L79.2,418.4 L79.4,416.5 L79.6,415.6 L79.8,414.8 L80.0,413.3 L80.2,411.7 L80.4,410.7 L80.6,409.8 L80.8,408.6 L81.0,407.7 L81.2,406.5 L81.4,405.1 L81.6,403.8 L81.8,402.6 L82.0,401.7 L82.2,400.3 L82.4,398.9 L82.6,398.3 L82.8,396.7 L83.0,396.2 L83.2,394.8 L83.4,393.1 L83.6,392.3 L83.8,391.3 L84.0,390.0 L84.3,388.4 L84.6,387.6 L84.9,386.0 L85.1,385.5 L85.4,383.6 L85.7,383.0 L86.0,381.7 L86.1,380.9 L86.3,379.6 L86.4,377.9 L86.5,377.0 L86.7,375.5 L86.8,374.5 L86.9,373.8 L87.1,372.6 L87.2,370.7 L87.3,370.0 L88.7,371.7 L88.9,370.4 L89.1,369.6 L89.3,368.0 L89.6,367.5 L89.8,366.5 L90.0,365.0 L90.4,363.9 L90.9,362.7 L91.3,361.7 L92.0,363.1 L92.7,364.0 L93.3,362.5 L94.0,361.0 L95.0,361.9 L96.0,363.3 L96.5,362.0 L97.0,360.9 L97.5,360.4 L98.0,359.0 L99.0,359.8 L100.0,360.7 L100.7,359.7 L101.3,358.7 L102.0,357.3 L102.7,358.6 L103.3,358.8 L104.0,360.0 L104.5,358.9 L105.0,358.3 L105.5,357.2 L106.0,356.0 L107.0,357.1 L108.0,358.3 L108.5,357.5 L109.0,356.1 L109.5,355.0 L110.0,354.3 L112.0,355.0 L112.3,355.7 L112.7,357.1 L113.0,358.0 L113.3,359.3 L113.8,360.3 L114.3,361.8 L114.8,362.0 L115.3,363.3 L115.8,364.6 L116.3,366.2 L116.8,367.2 L117.3,368.3 L117.8,369.4 L118.3,370.7 L118.8,371.2 L119.3,372.7 L120.0,374.2 L120.7,375.1 L121.3,376.0 L122.0,377.4 L122.7,378.5 L123.3,379.3 L124.3,380.1 L125.3,381.7 L126.0,382.4 L126.7,383.6 L127.3,385.0 L128.3,386.2 L129.3,387.3 L130.3,388.6 L131.3,389.0 L133.3,388.3 L134.3,389.9 L135.3,390.7 L137.3,390.0 L138.3,390.9 L139.3,392.0 L140.3,392.8 L141.3,393.3 L142.3,394.4 L143.3,395.0 L144.3,395.3 L145.3,396.0 L147.3,396.7 L149.3,397.3 L150.3,398.8 L151.3,399.3 L152.3,400.9 L153.3,401.7 L154.0,403.0 L154.7,404.3 L155.3,405.0 L155.8,406.4 L156.3,407.3 L156.8,408.1 L157.3,409.3 L157.8,410.3 L158.3,411.4 L158.8,412.4 L159.3,414.0 L159.7,415.4 L160.1,416.0 L160.5,416.8 L160.9,418.1 L161.3,419.3 L161.8,420.1 L162.3,421.6 L162.8,422.7 L163.3,424.0 L163.8,424.8 L164.3,426.1 L164.8,427.2 L165.3,428.3 L165.8,429.3 L166.3,430.8 L166.8,431.4 L167.3,432.7 L167.8,433.7 L168.3,435.0 L168.8,436.1 L169.3,436.7 L170.0,437.4 L170.7,438.0 L171.3,439.3 L172.3,440.6 L173.3,441.0 L174.3,441.8 L175.3,442.7 L176.3,443.1 L177.3,444.0 L178.7,443.7 L180.0,444.0 L181.3,444.4 L182.7,445.3 L184.0,445.8 L185.3,446.7 L186.7,447.0 L188.0,448.0 L189.3,448.3 L190.7,449.3 L192.0,450.4 L193.3,450.7 L194.4,451.4 L195.6,451.2 L196.7,452.0 L197.8,452.6 L198.9,453.6 L200.0,454.0 L200.8,454.8 L201.7,455.3 L202.5,456.4 L203.3,457.3 L204.2,458.1 L205.0,459.4 L205.8,459.9 L206.7,460.7 L207.5,461.6 L208.3,462.8 L209.2,463.3 L210.0,464.7 L210.8,465.8 L211.7,466.8 L212.5,467.6 L213.3,468.3 L214.2,469.2 L215.0,470.1 L215.8,470.9 L216.7,472.3 L217.5,472.7 L218.3,473.5 L219.2,474.5 L220.0,475.3 L220.8,476.3 L221.7,476.6 L222.5,477.6 L223.3,478.3 L224.4,479.2 L225.6,480.0 L226.7,480.7 L227.8,481.1 L228.9,482.8 L230.0,483.3 L231.1,484.3 L232.2,484.9 L233.3,486.0 L234.4,486.5 L235.6,487.7 L236.7,488.3 L237.8,489.5 L238.9,489.7 L240.0,490.7 L241.1,491.2 L242.2,492.1 L243.3,492.7 L244.4,492.8 L245.6,493.5 L246.7,494.0 L247.8,494.7 L248.9,494.7 L250.0,495.0 L251.1,495.7 L252.2,495.7 L253.3,496.7 L254.4,497.0 L255.6,497.0 L256.7,497.7 L257.8,498.1 L258.9,498.6 L260.0,498.9 L261.1,499.3 L262.2,499.4 L263.3,500.0 L264.4,500.4 L265.6,500.5 L266.7,501.3 L267.8,501.2 L268.9,502.1 L270.0,502.0 L271.1,502.3 L272.2,502.3 L273.3,502.8 L274.4,502.8 L275.6,503.6 L276.7,503.7 L277.8,503.6 L278.9,504.3 L280.0,504.4 L281.1,504.9 L282.2,504.8 L283.3,505.3 L284.4,505.7 L285.6,506.0 L286.7,506.0 L287.8,506.3 L288.9,506.7 L290.0,507.0 L291.1,507.3 L292.2,507.3 L293.3,507.5 L294.4,507.9 L295.6,508.2 L296.7,508.3 L297.8,508.4 L298.9,508.9 L300.0,509.0 L301.1,509.1 L302.2,509.3 L303.3,509.7 L304.4,509.8 L305.6,510.0 L306.7,510.1 L307.8,510.2 L308.9,510.5 L310.0,510.7 L311.1,510.7 L312.2,510.8 L313.3,510.8 L314.4,510.9 L315.6,511.0 L316.7,511.0 L317.8,511.1 L318.9,511.2 L320.0,511.4 L321.1,511.4 L322.2,511.5 L323.3,511.7 L333.3,512.0 L345.0,512.3 L476.0,512.3" fill="none" stroke="#ff0000" stroke-width="2.45" stroke-linejoin="round" stroke-linecap="round"/>
<path d="M63.7,512.3 L66.0,512.3 L66.2,511.2 L66.4,510.1 L66.6,509.0 L66.8,507.6 L67.0,506.4 L67.1,505.4 L67.3,504.3 L67.8,505.5 L68.2,507.1 L68.7,508.3 L70.0,506.7 L71.3,507.3 L72.0,506.3 L72.7,505.0 L74.0,503.3 L74.4,502.3 L74.9,501.2 L75.3,500.0 L76.7,499.0 L77.0,497.9 L77.3,496.2 L77.7,495.2 L78.0,494.0 L78.4,492.4 L78.9,491.7 L79.3,490.0 L80.0,488.3 L80.7,487.3 L81.1,486.3 L81.6,484.3 L82.0,483.3 L83.3,482.7 L83.8,481.7 L84.2,480.3 L84.7,479.3 L86.0,478.3 L86.7,479.4 L87.3,480.7 L88.0,479.8 L88.7,478.3 L89.3,479.1 L90.0,480.7 L91.3,481.7 L92.0,482.6 L92.7,484.3 L93.3,485.9 L94.0,486.7 L94.4,487.8 L94.9,488.5 L95.3,490.0 L95.8,491.5 L96.2,492.6 L96.7,493.3 L97.1,494.1 L97.6,495.5 L98.0,496.7 L98.7,497.5 L99.3,499.0 L100.7,500.7 L102.0,501.7 L104.0,502.3 L106.0,502.7 L107.0,502.0 L108.0,501.7 L110.0,501.0 L111.0,500.3 L112.0,499.3 L113.0,498.0 L114.0,497.3 L115.0,496.7 L116.0,495.7 L117.0,494.4 L118.0,494.0 L119.0,492.7 L120.0,492.0 L121.0,491.3 L122.0,490.0 L123.0,489.1 L124.0,488.3 L125.0,487.1 L126.0,486.0 L126.7,485.2 L127.3,484.2 L128.0,483.3 L128.7,482.1 L129.3,480.7 L130.0,480.0 L130.7,479.1 L131.3,478.2 L132.0,476.7 L132.7,476.0 L133.3,474.6 L134.0,473.3 L134.7,472.3 L135.3,471.4 L136.0,470.7 L137.0,470.0 L138.0,469.0 L139.0,468.0 L140.0,466.7 L141.0,465.5 L142.0,465.0 L143.0,463.9 L144.0,463.3 L145.0,462.5 L146.0,462.0 L147.0,461.0 L148.0,460.0 L149.0,459.6 L150.0,458.7 L151.0,457.7 L152.0,456.7 L153.0,455.1 L154.0,454.3 L155.0,453.6 L156.0,452.3 L157.0,451.1 L158.0,450.0 L159.0,448.9 L160.0,447.7 L160.7,446.5 L161.3,445.8 L162.0,445.0 L162.7,444.0 L163.3,443.5 L164.0,442.3 L164.7,441.0 L165.3,440.4 L166.0,439.3 L166.7,437.9 L167.3,437.3 L168.0,436.0 L168.5,434.5 L169.0,433.6 L169.5,432.6 L170.0,431.7 L170.5,430.7 L171.0,429.1 L171.5,428.4 L172.0,427.3 L172.5,426.1 L173.0,425.1 L173.5,424.3 L174.0,423.3 L174.7,422.9 L175.3,421.5 L176.0,420.7 L177.0,419.9 L178.0,418.3 L179.0,416.9 L180.0,416.0 L181.0,415.9 L182.0,415.0 L183.0,414.0 L184.0,413.3 L185.0,412.4 L186.0,412.0 L187.0,411.7 L188.0,411.0 L189.0,410.9 L190.0,410.0 L191.0,408.9 L192.0,408.7 L194.0,409.3 L195.0,408.6 L196.0,408.3 L197.0,408.1 L198.0,407.3 L199.0,406.5 L200.0,406.0 L201.0,405.1 L202.0,404.7 L203.0,403.2 L204.0,402.7 L205.0,401.3 L206.0,400.7 L207.0,399.8 L208.0,398.7 L208.7,398.2 L209.3,397.3 L210.0,396.0 L211.0,395.0 L212.0,394.0 L213.0,392.7 L214.0,392.3 L215.0,391.3 L216.0,390.7 L217.0,389.9 L218.0,388.7 L219.0,388.0 L220.0,386.7 L221.0,385.8 L222.0,384.7 L223.0,383.8 L224.0,383.3 L225.0,382.4 L226.0,381.3 L227.0,380.3 L228.0,379.3 L229.0,378.8 L230.0,378.0 L231.0,376.8 L232.0,376.0 L233.0,375.6 L234.0,374.3 L235.0,373.9 L236.0,372.7 L237.0,371.9 L238.0,371.7 L239.0,370.8 L240.0,370.3 L241.0,370.2 L242.0,369.3 L243.0,368.6 L244.0,368.3 L245.0,368.2 L246.0,367.3 L248.0,366.7 L250.0,366.0 L251.2,365.6 L252.5,365.4 L253.8,365.1 L255.0,364.5 L256.2,363.8 L257.5,363.4 L258.8,362.9 L260.0,362.7 L261.2,362.5 L262.5,362.2 L263.8,361.3 L265.0,361.3 L266.2,361.3 L267.5,360.6 L268.8,360.1 L270.0,360.0 L271.2,359.7 L272.5,359.9 L273.8,359.3 L275.0,359.0 L276.2,358.7 L277.5,358.5 L278.8,358.2 L280.0,357.3 L281.2,357.2 L282.5,356.4 L283.8,356.2 L285.0,355.7 L286.2,355.7 L287.5,355.3 L288.8,354.7 L290.0,354.3 L291.2,353.9 L292.5,353.7 L293.8,353.8 L295.0,353.3 L296.2,353.1 L297.5,352.2 L298.8,352.5 L300.0,352.0 L301.2,352.2 L302.5,351.9 L303.8,351.9 L305.0,351.3 L306.2,351.5 L307.5,350.9 L308.8,350.8 L310.0,350.3 L311.2,350.2 L312.5,350.0 L313.8,350.2 L315.0,350.3 L316.2,349.9 L317.5,350.2 L318.8,349.8 L320.0,349.3 L321.1,349.4 L322.2,349.4 L323.3,349.0 L324.4,349.4 L325.6,349.5 L326.7,349.3 L327.8,349.2 L328.9,349.1 L330.0,349.2 L331.1,349.2 L332.2,349.5 L333.3,349.3 L334.4,349.0 L335.6,348.9 L336.7,349.1 L337.8,349.4 L338.9,349.4 L340.0,349.3 L341.1,349.5 L342.2,349.0 L343.3,348.7 L344.4,349.0 L345.6,349.0 L346.7,349.0 L347.8,348.9 L348.9,349.0 L350.0,349.0 L351.1,348.9 L352.2,349.0 L353.3,349.0 L354.4,349.1 L355.5,349.0 L356.6,349.0 L357.7,349.1 L358.8,349.0 L359.9,349.1 L361.0,349.0 L362.1,349.0 L363.2,349.0 L364.4,349.0 L365.5,349.0 L366.6,349.0 L367.7,349.0 L368.8,348.9 L369.9,349.0 L371.0,348.9 L372.1,349.0 L373.2,349.0 L374.3,349.1 L375.4,349.0 L376.5,349.0 L377.6,349.0 L378.7,349.0 L379.8,349.0 L380.9,349.0 L382.0,349.0 L383.1,348.9 L384.3,349.0 L385.4,349.0 L386.5,349.1 L387.6,349.1 L388.7,349.0 L389.8,348.9 L390.9,349.1 L392.0,348.4 L393.1,348.9 L394.2,348.9 L395.3,349.1 L396.4,349.1 L397.5,348.1 L398.6,349.0 L399.7,348.9 L400.8,348.9 L401.9,349.0 L403.0,349.0 L404.1,349.1 L405.3,348.4 L406.4,348.9 L407.5,349.1 L408.6,348.9 L409.7,349.1 L410.8,349.1 L411.9,348.9 L413.0,349.0 L414.1,349.0 L415.2,349.1 L416.3,348.9 L417.4,349.0 L418.5,349.0 L419.6,349.1 L420.7,349.0 L421.8,349.1 L422.9,349.0 L424.0,349.0 L425.2,349.1 L426.3,349.0 L427.4,348.9 L428.5,349.0 L429.6,348.9 L430.7,349.0 L431.8,349.0 L432.9,348.9 L434.0,349.0 L435.1,349.0 L436.2,349.1 L437.3,349.1 L438.4,349.1 L439.5,349.0 L440.6,349.0 L441.7,349.0 L442.8,349.0 L443.9,349.0 L445.0,349.1 L446.2,349.0 L447.3,349.0 L448.4,349.0 L449.5,349.0 L450.6,349.1 L451.7,349.1 L452.8,348.9 L453.9,349.1 L455.0,349.0 L456.1,349.1 L457.2,349.0 L458.3,348.3 L459.4,349.0 L460.5,349.0 L461.6,349.0 L462.7,349.1 L463.8,348.9 L464.9,349.0 L466.1,348.9 L467.2,349.0 L468.3,349.0 L469.4,349.1 L470.5,349.1 L471.6,349.0 L472.7,349.0 L473.8,348.9 L474.9,349.0 L476.0,349.0" fill="none" stroke="#0566bd" stroke-width="2.45" stroke-linejoin="round" stroke-linecap="round"/>
</g>
<path d="M387.1,412.7 h20.3" stroke="#ff0000" stroke-width="2.45" stroke-linecap="round"/>
<path d="M387.1,437.7 h20.3" stroke="#0566bd" stroke-width="2.45" stroke-linecap="round"/>
<text class="lg" font-size="17.4" x="416.4" y="419.0">G<tspan class="sb" dy="3.5">2</tspan><tspan dy="-3.5">BPO</tspan><tspan class="sb" dy="3.5">16</tspan></text>
<text class="lg" font-size="17.1" x="410.9" y="444.0">water</text>
</g>
<g id="panel-d">
<path d="M562.7,319.5 V515 H975.5" fill="none" stroke="#c2c2c2" stroke-width="1.3"/>
<path d="M562.7,515.0 h4.5 M562.7,490.6 h3.5 M562.7,466.2 h4.5 M562.7,441.9 h3.5 M562.7,417.5 h4.5 M562.7,393.1 h3.5 M562.7,368.8 h4.5 M562.7,344.4 h3.5 M562.7,320.0 h4.5 M603.9,515 v-4.5 M645.2,515 v-4.5 M686.4,515 v-4.5 M727.6,515 v-4.5 M768.9,515 v-4.5 M810.1,515 v-4.5 M851.3,515 v-4.5 M892.5,515 v-4.5 M933.8,515 v-4.5 M975.0,515 v-4.5" fill="none" stroke="#c2c2c2" stroke-width="1"/>
<text font-size="16.2" x="550.3" y="520.1" text-anchor="end">0</text>
<text font-size="16.2" x="550.3" y="471.4" text-anchor="end">0.01</text>
<text font-size="16.2" x="550.3" y="422.6" text-anchor="end">0.02</text>
<text font-size="16.2" x="550.3" y="373.9" text-anchor="end">0.03</text>
<text font-size="16.2" x="550.3" y="325.1" text-anchor="end">0.04</text>
<text font-size="16.2" x="562.7" y="542.7" text-anchor="middle">0</text>
<text font-size="16.2" x="645.2" y="542.7" text-anchor="middle">10</text>
<text font-size="16.2" x="727.6" y="542.7" text-anchor="middle">20</text>
<text font-size="16.2" x="810.1" y="542.7" text-anchor="middle">30</text>
<text font-size="16.2" x="892.5" y="542.7" text-anchor="middle">40</text>
<text font-size="16.2" x="975.0" y="542.7" text-anchor="middle">50</text>
<text class="it" font-size="17" transform="translate(515.7,419.4) rotate(-90)" text-anchor="middle">ρ (r)</text>
<text font-size="17" x="751.7" y="559.3"><tspan class="it">r</tspan> (Å)</text>
<text font-size="17.5" x="581.0" y="341.0">(d)</text>
<clipPath id="cp-d"><rect x="558.7" y="319.6" width="420.3" height="201.0"/></clipPath>
<g clip-path="url(#cp-d)">
<path d="M563.0,375.0 L563.0,374.3 L563.0,373.2 L563.0,372.1 L563.1,370.2 L563.1,369.6 L563.1,368.3 L563.1,367.3 L563.1,365.9 L563.1,364.8 L563.1,364.0 L563.1,362.6 L563.2,361.8 L563.2,360.3 L563.2,359.2 L563.2,358.7 L563.2,357.3 L563.2,356.3 L563.2,355.4 L563.3,354.0 L563.3,352.6 L563.3,352.2 L563.3,350.9 L563.3,349.8 L563.3,348.7 L563.3,347.9 L563.3,346.3 L563.4,345.5 L563.4,344.1 L563.4,343.2 L563.4,342.1 L563.4,340.7 L563.4,339.4 L563.4,338.7 L563.5,337.8 L563.5,336.6 L563.5,335.4 L563.5,334.4 L563.5,332.9 L563.5,331.8 L563.5,330.8 L563.5,330.2 L563.6,328.5 L563.6,327.4 L563.6,326.2 L563.6,325.1 L563.6,324.2 L563.6,323.4 L563.6,322.5 L563.7,320.9 L563.7,320.0 L563.9,321.0 L564.1,322.0 L564.3,323.2 L564.6,324.7 L564.8,325.6 L565.0,326.7 L565.2,325.3 L565.3,324.1 L565.5,323.6 L565.7,322.4 L565.8,321.4 L566.0,320.0 L566.1,320.9 L566.1,322.3 L566.2,323.8 L566.3,324.6 L566.4,326.1 L566.4,326.5 L566.5,328.4 L566.6,328.7 L566.6,330.2 L566.7,331.0 L566.8,332.8 L566.8,333.9 L566.9,335.3 L567.0,336.2 L567.1,337.5 L567.1,338.3 L567.2,339.8 L567.3,340.8 L567.3,341.7 L567.4,340.4 L567.6,339.9 L567.7,338.2 L567.8,336.9 L567.9,335.7 L568.0,335.0 L568.1,333.6 L568.2,333.2 L568.3,332.1 L568.4,330.3 L568.6,329.1 L568.7,328.3 L568.8,329.5 L568.9,330.3 L569.0,331.8 L569.1,333.2 L569.2,333.9 L569.3,335.2 L569.4,336.8 L569.5,337.5 L569.6,338.6 L569.7,340.2 L569.8,341.3 L569.9,342.5 L570.0,343.3 L570.1,344.7 L570.2,345.6 L570.2,347.0 L570.3,348.2 L570.4,349.2 L570.5,350.0 L570.5,351.2 L570.6,352.5 L570.7,354.0 L570.8,354.9 L570.8,356.1 L570.9,357.5 L571.0,358.3 L571.1,359.1 L571.2,360.7 L571.2,361.6 L571.3,363.0 L571.4,364.4 L571.5,365.0 L571.6,366.8 L571.7,367.1 L571.8,368.7 L571.8,369.8 L571.9,370.7 L572.0,372.1 L572.1,373.2 L572.2,374.3 L572.2,375.7 L572.3,376.7 L572.5,377.3 L572.6,378.8 L572.8,380.3 L572.9,380.8 L573.0,382.6 L573.2,383.1 L573.3,384.6 L573.4,385.3 L573.6,386.6 L573.7,387.7 L573.9,388.5 L574.0,390.0 L574.2,391.4 L574.4,392.4 L574.7,393.8 L574.9,394.9 L575.1,396.2 L575.3,397.3 L575.9,398.5 L576.4,399.4 L577.0,400.7 L577.1,399.9 L577.2,398.1 L577.4,397.6 L577.5,396.5 L577.6,395.1 L577.7,394.2 L577.8,393.0 L578.0,391.8 L578.1,390.4 L578.2,389.3 L578.3,388.3 L578.5,387.0 L578.7,385.8 L578.8,385.2 L579.0,383.5 L579.2,382.4 L579.3,381.3 L579.5,380.5 L579.7,379.0 L579.8,377.9 L580.0,376.7 L580.3,375.2 L580.7,374.0 L581.0,372.6 L581.3,371.5 L581.7,370.3 L582.0,369.3 L582.4,371.0 L582.9,372.0 L583.3,373.3 L584.7,375.0 L584.8,375.8 L585.0,377.2 L585.1,378.0 L585.3,379.5 L585.4,380.5 L585.6,382.0 L585.7,382.6 L585.9,384.2 L586.0,385.0 L586.6,386.1 L587.1,388.1 L587.7,389.0 L587.9,390.3 L588.2,390.9 L588.5,392.8 L588.8,393.5 L589.1,394.7 L589.3,396.0 L589.8,394.6 L590.2,394.1 L590.6,392.4 L591.0,391.7 L592.2,390.7 L593.3,389.3 L594.2,390.0 L595.1,391.1 L596.0,391.7 L596.9,392.6 L597.8,393.5 L598.7,395.0 L599.2,396.6 L599.7,397.6 L600.2,398.5 L600.7,400.0 L601.3,401.5 L602.0,402.6 L602.7,403.3 L603.2,404.3 L603.7,405.4 L604.2,407.2 L604.7,408.3 L605.7,408.8 L606.7,410.0 L607.7,411.0 L608.7,411.7 L609.2,410.6 L609.7,409.7 L610.2,408.5 L610.7,407.3 L611.2,406.6 L611.7,405.6 L612.2,404.4 L612.7,403.3 L613.7,402.6 L614.7,401.7 L615.7,400.7 L616.7,400.0 L617.2,400.9 L617.7,402.1 L618.2,404.1 L618.7,405.0 L619.3,405.8 L620.0,407.2 L620.7,408.3 L621.2,409.3 L621.7,410.6 L622.2,411.6 L622.7,412.7 L623.2,414.0 L623.7,414.6 L624.2,415.5 L624.7,416.7 L625.3,417.7 L626.0,418.7 L626.7,419.3 L627.7,420.4 L628.7,420.7 L629.7,421.3 L630.7,422.3 L631.7,423.5 L632.7,424.0 L634.7,423.3 L635.7,423.3 L636.7,422.3 L637.7,421.9 L638.7,420.7 L639.7,419.7 L640.7,419.3 L641.7,418.2 L642.7,417.3 L644.7,416.7 L646.7,416.0 L648.7,416.7 L650.7,416.0 L652.7,416.7 L654.7,416.3 L655.7,417.2 L656.7,417.7 L657.7,418.8 L658.7,419.3 L659.7,419.6 L660.7,420.7 L661.7,421.6 L662.7,422.7 L663.7,424.0 L664.7,425.0 L665.7,426.4 L666.7,427.3 L667.7,428.4 L668.7,429.3 L669.7,430.2 L670.7,431.7 L671.7,432.4 L672.7,433.3 L673.7,434.1 L674.7,435.7 L675.7,436.5 L676.7,437.7 L677.7,438.4 L678.7,439.3 L679.7,440.3 L680.7,440.7 L681.7,441.2 L682.7,441.7 L683.7,442.1 L684.7,442.7 L686.7,442.3 L687.8,442.2 L688.9,442.4 L690.0,442.7 L691.1,442.8 L692.2,442.6 L693.3,442.7 L694.4,442.7 L695.6,443.6 L696.7,443.7 L697.8,443.8 L698.9,444.3 L700.0,444.0 L701.1,444.7 L702.2,445.4 L703.3,446.0 L704.4,446.5 L705.6,447.2 L706.7,447.7 L707.5,449.0 L708.3,450.1 L709.2,450.8 L710.0,451.7 L710.8,452.7 L711.7,453.4 L712.5,455.2 L713.3,456.0 L714.0,456.9 L714.7,457.9 L715.3,458.6 L716.0,459.6 L716.7,461.0 L717.3,461.9 L718.0,463.4 L718.7,464.2 L719.3,465.2 L720.0,466.0 L720.7,467.1 L721.3,467.7 L722.0,468.5 L722.7,469.8 L723.3,470.7 L724.2,471.2 L725.0,472.6 L725.8,473.4 L726.7,474.3 L727.5,475.2 L728.3,475.7 L729.2,476.4 L730.0,477.7 L730.8,478.4 L731.7,478.8 L732.5,480.0 L733.3,480.7 L734.4,481.4 L735.6,482.6 L736.7,483.3 L737.8,484.3 L738.9,485.0 L740.0,485.7 L741.1,486.4 L742.2,486.7 L743.3,487.7 L744.4,488.3 L745.6,489.7 L746.7,490.0 L747.8,490.3 L748.9,490.9 L750.0,491.7 L750.8,492.4 L751.7,493.2 L752.5,494.1 L753.3,494.4 L754.2,495.7 L755.0,496.0 L756.0,496.4 L757.0,497.9 L758.0,498.5 L759.0,499.6 L760.0,500.0 L761.0,500.4 L762.0,501.5 L763.0,502.4 L764.0,502.8 L765.0,503.3 L766.0,503.5 L767.0,504.6 L768.0,505.1 L769.0,504.9 L770.0,505.7 L771.1,506.3 L772.2,506.3 L773.3,506.7 L774.4,507.6 L775.6,508.0 L776.7,508.3 L777.8,508.9 L778.9,509.0 L780.0,509.2 L781.1,509.3 L782.2,509.8 L783.3,510.0 L784.4,510.5 L785.6,510.6 L786.7,511.0 L787.8,511.0 L788.9,511.5 L790.0,511.7 L791.1,512.0 L792.2,512.0 L793.3,512.4 L794.4,512.5 L795.6,512.7 L796.7,513.0 L797.8,513.0 L798.9,513.3 L800.0,513.2 L801.1,513.6 L802.2,513.4 L803.3,513.7 L804.4,513.8 L805.6,513.9 L806.7,514.0 L807.8,514.1 L808.9,514.3 L810.0,514.3 L821.7,515.0 L975.0,515.0" fill="none" stroke="#ff0000" stroke-width="2.45" stroke-linejoin="round" stroke-linecap="round"/>
<path d="M563.0,515.0 L564.0,514.5 L565.0,514.0 L566.0,515.3 L566.7,514.0 L567.3,512.7 L568.0,511.8 L568.7,511.0 L569.3,510.0 L570.0,508.7 L570.7,507.6 L571.3,506.7 L571.7,505.3 L572.1,504.2 L572.5,503.5 L572.9,501.8 L573.3,501.0 L573.6,499.9 L573.9,498.6 L574.2,497.5 L574.5,496.6 L574.8,495.8 L575.0,494.5 L575.3,493.3 L575.6,491.7 L575.9,490.8 L576.2,489.4 L576.5,488.9 L576.8,487.7 L577.0,486.5 L577.3,485.0 L577.6,484.2 L577.8,483.0 L578.0,482.1 L578.2,480.8 L578.4,479.2 L578.7,478.6 L578.9,477.2 L579.1,476.3 L579.3,475.0 L579.6,473.9 L579.9,472.6 L580.2,471.3 L580.5,470.2 L580.8,468.9 L581.0,467.5 L581.3,466.7 L581.7,465.8 L582.1,464.5 L582.5,463.5 L582.9,462.0 L583.3,460.7 L584.7,459.3 L585.3,458.4 L586.0,457.3 L586.7,458.9 L587.3,460.0 L588.7,459.0 L589.3,459.7 L590.0,461.0 L591.0,462.0 L592.0,462.7 L592.7,463.7 L593.3,464.6 L594.0,466.0 L595.0,466.4 L596.0,467.3 L596.7,466.5 L597.3,465.3 L598.0,464.7 L599.0,464.0 L600.0,463.3 L601.0,462.9 L602.0,462.3 L603.0,461.7 L604.0,461.3 L606.0,460.7 L608.0,461.0 L609.0,460.2 L610.0,460.0 L612.0,460.3 L613.0,459.7 L614.0,459.0 L616.0,459.3 L617.0,458.3 L618.0,457.7 L619.0,456.9 L620.0,456.7 L621.0,456.9 L622.0,457.7 L624.0,458.3 L625.0,457.4 L626.0,456.7 L628.0,456.0 L629.0,455.1 L630.0,455.0 L631.0,454.3 L632.0,453.3 L633.0,452.9 L634.0,451.7 L635.0,451.1 L636.0,450.7 L637.0,450.2 L638.0,449.3 L639.0,449.1 L640.0,448.0 L642.0,448.3 L644.0,447.7 L646.0,448.3 L647.0,447.4 L648.0,447.3 L650.0,447.7 L651.0,446.5 L652.0,446.0 L654.0,445.7 L655.0,445.3 L656.0,444.3 L657.0,444.1 L658.0,443.3 L659.0,442.8 L660.0,442.0 L661.0,441.0 L662.0,440.7 L664.0,440.0 L665.0,439.1 L666.0,438.3 L667.0,437.5 L668.0,436.0 L669.0,435.3 L670.0,434.0 L671.0,433.3 L672.0,432.0 L673.0,430.7 L674.0,430.0 L675.0,429.5 L676.0,428.3 L677.0,427.6 L678.0,427.0 L679.0,426.7 L680.0,426.0 L681.0,425.2 L682.0,425.0 L684.0,424.7 L686.0,424.0 L688.0,423.3 L690.0,423.3 L691.0,423.3 L692.0,422.3 L694.0,421.7 L696.0,421.0 L697.0,420.6 L698.0,420.0 L699.0,419.5 L700.0,418.7 L701.0,417.7 L702.0,417.3 L703.0,416.6 L704.0,415.7 L705.0,414.9 L706.0,414.0 L707.0,413.2 L708.0,412.3 L709.0,411.0 L710.0,410.0 L711.0,409.4 L712.0,408.3 L713.0,407.0 L714.0,406.0 L715.0,405.0 L716.0,404.3 L716.7,403.1 L717.3,402.7 L718.0,401.7 L718.7,400.4 L719.3,399.6 L720.0,399.0 L720.7,397.6 L721.3,397.1 L722.0,396.0 L722.7,395.2 L723.3,394.3 L724.0,393.3 L724.7,392.0 L725.3,391.5 L726.0,390.7 L726.7,389.6 L727.3,388.5 L728.0,388.0 L729.0,386.4 L730.0,385.7 L731.0,384.9 L732.0,383.3 L733.0,382.2 L734.0,381.7 L735.0,380.7 L736.0,380.0 L737.0,379.0 L738.0,378.3 L739.0,377.6 L740.0,376.7 L741.0,375.5 L742.0,375.0 L743.0,374.1 L744.0,373.3 L745.0,372.7 L746.0,372.3 L747.0,372.1 L748.0,371.3 L750.0,370.7 L751.1,369.8 L752.2,369.6 L753.3,369.3 L754.4,368.7 L755.6,368.5 L756.7,367.5 L757.8,366.8 L758.9,366.0 L760.0,365.3 L761.1,364.6 L762.2,363.4 L763.3,362.7 L764.4,361.5 L765.6,361.1 L766.7,360.3 L767.8,360.0 L768.9,359.2 L770.0,358.3 L771.1,357.6 L772.2,357.4 L773.3,356.7 L774.4,356.4 L775.6,355.3 L776.7,355.0 L777.8,354.6 L778.9,354.0 L780.0,353.7 L781.1,353.2 L782.2,353.0 L783.3,353.0 L784.4,352.5 L785.6,352.4 L786.7,352.3 L787.8,351.6 L788.9,351.6 L790.0,351.3 L791.2,350.8 L792.5,351.2 L793.8,350.9 L795.0,350.7 L796.2,350.1 L797.5,350.6 L798.8,349.9 L800.0,350.0 L801.2,350.0 L802.5,350.0 L803.8,349.8 L805.0,350.0 L806.2,349.6 L807.5,349.6 L808.8,349.2 L810.0,349.3 L811.1,349.6 L812.2,348.9 L813.3,349.5 L814.4,348.9 L815.6,348.9 L816.7,349.0 L817.8,348.8 L818.9,348.4 L820.0,348.3 L821.1,348.4 L822.2,348.4 L823.3,348.3 L824.4,348.6 L825.6,348.7 L826.7,347.8 L827.8,348.2 L828.9,347.8 L830.0,348.4 L831.1,347.9 L832.2,348.4 L833.3,348.0 L834.4,348.0 L835.6,347.7 L836.7,347.6 L837.8,347.8 L838.9,348.3 L840.0,347.7 L841.1,348.0 L842.2,347.9 L843.3,347.9 L844.4,348.3 L845.6,347.7 L846.7,348.2 L847.8,348.1 L848.9,348.4 L850.0,348.0 L851.1,348.0 L852.2,348.0 L853.3,348.0 L854.4,348.1 L855.5,347.9 L856.6,348.0 L857.7,347.9 L858.8,347.9 L860.0,348.5 L861.1,347.9 L862.2,347.9 L863.3,347.9 L864.4,347.9 L865.5,348.0 L866.6,347.1 L867.7,347.9 L868.8,347.9 L869.9,348.0 L871.0,347.1 L872.1,347.9 L873.2,348.0 L874.3,348.0 L875.4,347.9 L876.5,348.0 L877.7,347.9 L878.8,348.0 L879.9,348.0 L881.0,347.1 L882.1,347.9 L883.2,346.9 L884.3,347.9 L885.4,347.9 L886.5,348.0 L887.6,347.9 L888.7,347.9 L889.8,347.8 L890.9,347.8 L892.0,347.8 L893.1,347.9 L894.2,347.8 L895.4,347.9 L896.5,347.2 L897.6,348.0 L898.7,347.9 L899.8,347.9 L900.9,347.8 L902.0,347.8 L903.1,347.8 L904.2,347.8 L905.3,347.8 L906.4,347.8 L907.5,347.9 L908.6,347.8 L909.7,347.9 L910.8,347.2 L911.9,347.9 L913.1,347.9 L914.2,347.8 L915.3,347.9 L916.4,347.9 L917.5,347.9 L918.6,347.9 L919.7,347.7 L920.8,347.8 L921.9,347.9 L923.0,347.8 L924.1,347.8 L925.2,347.7 L926.3,347.7 L927.4,347.8 L928.5,347.7 L929.6,347.7 L930.8,347.9 L931.9,347.7 L933.0,347.7 L934.1,347.7 L935.2,347.7 L936.3,347.7 L937.4,347.8 L938.5,347.8 L939.6,347.8 L940.7,347.8 L941.8,347.7 L942.9,347.8 L944.0,347.8 L945.1,347.8 L946.2,347.7 L947.3,347.7 L948.5,347.7 L949.6,347.7 L950.7,347.7 L951.8,347.7 L952.9,347.8 L954.0,347.8 L955.1,347.7 L956.2,347.7 L957.3,347.8 L958.4,347.7 L959.5,347.7 L960.6,347.0 L961.7,347.6 L962.8,347.8 L963.9,347.7 L965.0,348.2 L966.2,347.6 L967.3,347.7 L968.4,347.7 L969.5,347.7 L970.6,347.6 L971.7,347.6 L972.8,347.6 L973.9,347.7 L975.0,347.7" fill="none" stroke="#0566bd" stroke-width="2.45" stroke-linejoin="round" stroke-linecap="round"/>
</g>
<path d="M886.0,412.2 h19.9" stroke="#ff0000" stroke-width="2.45" stroke-linecap="round"/>
<path d="M886.0,437.3 h20.4" stroke="#0566bd" stroke-width="2.45" stroke-linecap="round"/>
<text class="lg" font-size="17.4" x="915.4" y="419.0">G<tspan class="sb" dy="3.5">3</tspan><tspan dy="-3.5">BPO</tspan><tspan class="sb" dy="3.5">32</tspan></text>
<text class="lg" font-size="17.1" x="910.1" y="443.6">water</text>
</g>
<g id="panel-e">
<path d="M307.1,608.6 V805.3 H722.7" fill="none" stroke="#c2c2c2" stroke-width="1.3"/>
<path d="M307.1,805.3 h4.5 M307.1,780.8 h3.5 M307.1,756.2 h4.5 M307.1,731.7 h3.5 M307.1,707.2 h4.5 M307.1,682.7 h3.5 M307.1,658.1 h4.5 M307.1,633.6 h3.5 M307.1,609.1 h4.5 M341.7,805.3 v-4.5 M376.3,805.3 v-4.5 M410.9,805.3 v-4.5 M445.5,805.3 v-4.5 M480.1,805.3 v-4.5 M514.7,805.3 v-4.5 M549.2,805.3 v-4.5 M583.8,805.3 v-4.5 M618.4,805.3 v-4.5 M653.0,805.3 v-4.5 M687.6,805.3 v-4.5 M722.2,805.3 v-4.5" fill="none" stroke="#c2c2c2" stroke-width="1"/>
<text font-size="16.1" x="294.3" y="810.4" text-anchor="end">0</text>
<text font-size="16.1" x="294.3" y="761.4" text-anchor="end">0.01</text>
<text font-size="16.1" x="294.3" y="712.3" text-anchor="end">0.02</text>
<text font-size="16.1" x="294.3" y="663.2" text-anchor="end">0.03</text>
<text font-size="16.1" x="294.3" y="614.2" text-anchor="end">0.04</text>
<text font-size="16.1" x="307.1" y="832.8" text-anchor="middle">0</text>
<text font-size="16.1" x="376.3" y="832.8" text-anchor="middle">10</text>
<text font-size="16.1" x="445.5" y="832.8" text-anchor="middle">20</text>
<text font-size="16.1" x="514.7" y="832.8" text-anchor="middle">30</text>
<text font-size="16.1" x="583.8" y="832.8" text-anchor="middle">40</text>
<text font-size="16.1" x="653.0" y="832.8" text-anchor="middle">50</text>
<text font-size="16.1" x="722.2" y="832.8" text-anchor="middle">60</text>
<text class="it" font-size="17" transform="translate(264.2,733.7) rotate(-90)" text-anchor="middle">ρ (r)</text>
<text font-size="17" x="525.4" y="849.5"><tspan class="it">r</tspan> (Å)</text>
<text font-size="17" x="335.5" y="625.2">(e)</text>
<clipPath id="cp-e"><rect x="303.1" y="608.7" width="423.1" height="202.2"/></clipPath>
<g clip-path="url(#cp-e)">
<path d="M307.8,805.2 L307.8,804.2 L307.8,803.1 L307.9,801.8 L307.9,801.0 L307.9,799.5 L307.9,798.6 L307.9,797.1 L308.0,796.4 L308.0,794.8 L308.0,794.2 L308.0,793.1 L308.1,792.0 L308.1,790.6 L308.1,789.8 L308.1,788.8 L308.1,786.9 L308.2,786.1 L308.2,785.4 L308.2,784.1 L308.2,782.7 L308.3,781.5 L308.3,780.9 L308.3,779.0 L308.3,778.5 L308.3,777.4 L308.4,775.7 L308.4,774.7 L308.4,773.6 L308.4,772.7 L308.5,771.5 L308.6,772.5 L308.7,774.2 L308.8,775.3 L308.9,775.9 L309.1,777.6 L309.2,778.0 L309.3,779.2 L309.4,780.7 L309.5,779.7 L309.5,778.7 L309.6,777.6 L309.6,776.6 L309.6,775.3 L309.7,773.7 L309.7,773.0 L309.8,772.0 L309.8,770.1 L309.8,769.3 L309.9,767.9 L309.9,766.8 L310.0,765.9 L310.0,765.0 L310.0,764.1 L310.1,762.2 L310.1,761.4 L310.2,760.7 L310.2,759.4 L310.3,758.1 L310.3,756.7 L310.3,755.9 L310.4,754.4 L310.4,753.5 L310.6,754.8 L310.7,756.0 L310.8,756.9 L311.0,758.4 L311.1,759.3 L311.3,760.5 L311.4,761.7 L311.5,760.9 L311.5,759.2 L311.6,758.0 L311.6,757.2 L311.7,756.0 L311.8,755.3 L311.8,753.6 L311.9,752.6 L312.0,751.2 L312.0,750.4 L312.1,749.1 L312.1,748.1 L312.2,747.3 L312.3,745.5 L312.3,745.2 L312.4,743.7 L312.9,745.0 L313.5,746.1 L314.0,746.9 L314.3,745.8 L314.7,744.6 L315.0,743.2 L315.3,742.0 L315.5,740.8 L315.8,739.6 L316.0,738.6 L316.2,737.5 L316.4,736.4 L316.6,735.5 L317.9,733.8 L318.6,735.4 L319.3,736.1 L319.3,735.3 L319.4,734.0 L319.5,732.3 L319.6,731.4 L319.7,730.5 L319.8,729.5 L319.9,728.1 L320.0,727.2 L320.0,726.3 L320.1,724.6 L320.2,723.5 L320.3,722.7 L320.4,721.2 L320.5,720.4 L320.6,719.1 L320.6,717.9 L320.7,716.4 L320.8,715.6 L320.9,714.1 L321.0,713.6 L321.0,712.5 L321.1,711.0 L321.2,710.2 L321.3,708.4 L321.3,707.5 L321.4,706.1 L321.5,704.8 L321.6,704.4 L321.6,702.5 L321.7,702.2 L321.8,700.7 L321.9,699.5 L321.9,698.5 L322.0,696.8 L322.1,696.4 L322.1,695.1 L322.2,693.4 L322.3,692.3 L322.3,691.1 L322.4,690.3 L322.5,688.8 L322.5,688.3 L322.6,686.8 L322.7,685.9 L322.7,684.3 L322.8,683.5 L322.9,682.2 L322.9,681.2 L323.0,679.9 L323.1,679.3 L323.1,678.0 L323.2,676.5 L323.3,675.7 L323.3,674.1 L323.4,672.8 L323.5,671.6 L323.6,670.4 L323.7,670.0 L323.7,668.2 L323.8,667.6 L323.9,665.9 L324.0,665.1 L324.0,663.6 L324.1,662.5 L324.2,661.7 L324.3,660.4 L324.3,659.6 L324.4,657.8 L324.5,656.9 L324.6,655.5 L324.7,654.1 L324.8,653.1 L324.9,652.6 L325.0,651.1 L325.1,649.8 L325.2,648.5 L325.2,647.8 L325.3,646.5 L325.4,644.9 L325.5,643.6 L325.6,642.5 L325.7,642.0 L325.8,640.5 L326.0,639.6 L326.2,638.1 L326.5,637.0 L326.7,636.0 L326.9,635.2 L327.1,634.0 L327.2,633.0 L327.4,631.4 L327.5,630.4 L327.6,629.1 L327.8,628.6 L327.9,627.1 L328.0,626.3 L328.2,624.6 L328.3,623.8 L328.4,622.5 L328.6,623.6 L328.9,625.1 L329.1,625.6 L329.3,626.6 L329.5,628.2 L329.7,629.0 L330.1,630.7 L330.4,631.5 L330.7,632.6 L331.0,634.0 L331.3,632.5 L331.5,631.7 L331.7,631.1 L331.9,629.5 L332.1,628.4 L332.4,627.4 L333.7,629.0 L333.8,630.2 L333.9,631.1 L334.1,632.1 L334.2,633.6 L334.3,635.2 L334.5,636.3 L334.6,636.9 L334.7,638.5 L334.8,639.7 L335.0,640.5 L335.3,641.8 L335.6,642.8 L336.0,643.9 L336.3,645.4 L336.5,646.7 L336.7,647.8 L336.9,648.4 L337.2,649.5 L337.4,650.5 L337.6,652.0 L337.7,653.4 L337.9,654.5 L338.0,655.3 L338.2,656.4 L338.3,657.6 L338.5,658.2 L338.6,659.6 L338.8,660.7 L338.9,661.8 L339.1,663.2 L339.3,663.7 L339.6,665.4 L339.8,665.8 L340.0,667.3 L340.2,668.3 L340.5,669.9 L340.9,670.4 L341.2,672.0 L341.5,673.3 L341.7,673.9 L342.0,675.4 L342.2,676.5 L342.4,678.0 L342.6,678.7 L342.8,679.8 L343.8,681.0 L344.8,681.4 L345.8,680.5 L346.8,679.1 L347.8,678.5 L348.7,677.2 L350.7,677.2 L352.7,678.2 L353.2,679.3 L353.6,680.3 L354.1,682.0 L354.6,683.1 L355.6,684.0 L356.6,685.7 L358.6,684.7 L359.1,683.8 L359.5,682.3 L360.0,681.6 L360.5,680.5 L362.5,680.5 L363.5,682.0 L364.5,683.1 L365.1,684.6 L365.8,685.0 L366.4,686.4 L367.4,687.2 L368.4,688.6 L369.0,689.8 L369.7,691.5 L370.4,692.3 L371.3,693.2 L372.3,694.5 L372.8,695.6 L373.3,696.6 L373.8,697.3 L374.3,698.8 L376.2,699.5 L377.2,700.3 L378.2,701.1 L378.7,702.0 L379.2,703.2 L379.7,704.5 L380.2,705.4 L381.2,706.6 L382.1,707.6 L384.1,708.6 L386.1,709.3 L388.0,709.3 L389.0,708.2 L390.0,707.6 L391.0,708.6 L392.0,709.3 L393.9,709.9 L394.9,711.0 L395.9,711.9 L396.9,712.8 L397.9,713.2 L398.8,713.7 L399.8,715.2 L401.8,714.2 L403.8,715.2 L405.7,714.2 L406.7,715.1 L407.7,716.5 L408.7,718.0 L409.7,719.1 L410.3,720.2 L411.0,721.3 L411.6,722.4 L413.6,723.0 L414.6,722.4 L415.5,721.7 L417.5,720.7 L419.5,719.8 L421.4,719.1 L423.4,718.5 L425.4,718.5 L427.3,718.5 L429.3,719.1 L431.3,720.1 L432.3,720.8 L433.2,721.4 L435.2,722.4 L437.2,723.4 L439.1,724.0 L440.4,725.1 L441.7,725.7 L443.1,726.4 L444.4,726.6 L445.7,727.5 L447.0,727.9 L448.3,729.1 L449.6,729.6 L450.9,730.5 L452.2,731.2 L453.5,731.9 L454.8,733.2 L455.7,733.8 L456.6,735.0 L457.5,735.5 L458.8,736.5 L460.1,737.1 L461.0,738.0 L461.8,738.3 L462.7,739.4 L463.6,740.0 L464.5,741.3 L465.3,742.0 L466.2,742.7 L467.1,743.3 L468.0,744.3 L468.8,745.6 L469.7,745.8 L470.6,746.9 L471.4,748.4 L472.3,749.2 L473.2,750.2 L474.1,751.7 L474.9,752.7 L475.8,753.5 L476.7,754.1 L477.6,755.0 L478.4,756.1 L479.3,757.5 L480.2,758.2 L481.1,759.4 L481.9,760.5 L482.8,761.8 L483.7,762.7 L484.3,763.7 L485.0,764.8 L485.6,765.6 L486.3,766.6 L487.0,767.2 L487.7,768.5 L488.5,768.8 L489.2,770.2 L489.9,770.9 L490.6,772.2 L491.2,772.8 L491.9,773.7 L492.6,775.7 L493.3,776.4 L494.1,777.2 L494.9,778.6 L495.7,779.4 L496.6,780.7 L497.4,781.2 L498.2,782.1 L499.0,782.8 L499.8,784.0 L500.9,785.1 L502.0,785.9 L503.1,786.6 L504.1,787.4 L505.1,787.4 L506.0,788.2 L507.0,788.6 L508.0,789.5 L509.2,790.4 L510.5,791.1 L511.7,791.6 L512.9,791.8 L514.0,792.6 L515.1,792.8 L516.2,793.1 L517.3,793.2 L518.4,793.6 L519.5,794.4 L520.6,794.8 L521.7,795.3 L522.8,795.6 L523.8,795.5 L524.9,795.8 L526.0,796.1 L527.1,796.7 L528.2,796.6 L529.3,797.2 L530.4,797.4 L531.5,797.7 L532.6,798.0 L533.7,798.2 L534.8,798.4 L535.9,798.7 L536.9,799.0 L538.0,799.7 L539.1,799.7 L540.2,800.1 L541.3,800.0 L542.4,800.6 L543.5,800.6 L544.6,801.1 L545.7,801.3 L546.8,801.7 L547.9,801.9 L549.0,802.1 L550.0,802.4 L551.1,802.4 L552.2,802.6 L553.3,802.6 L554.4,802.9 L555.5,803.2 L556.6,803.3 L557.7,803.5 L558.8,803.6 L560.1,803.7 L561.4,804.0 L562.7,804.0 L564.0,804.1 L565.3,804.3 L566.6,804.3 L567.9,804.5 L569.3,804.7 L570.6,804.8 L571.9,804.9 L722.2,805.2" fill="none" stroke="#ff0000" stroke-width="2.45" stroke-linejoin="round" stroke-linecap="round"/>
<path d="M308.0,805.5 L308.0,804.3 L308.0,803.3 L308.0,802.2 L308.0,801.2 L308.0,799.8 L308.0,798.6 L308.0,797.8 L308.0,796.6 L308.0,795.2 L308.0,794.4 L308.0,793.0 L308.0,792.3 L308.0,790.5 L308.0,789.5 L308.0,789.0 L308.0,787.4 L308.0,786.2 L308.0,785.5 L308.0,784.3 L308.0,782.7 L308.0,781.9 L308.0,780.9 L308.0,779.3 L308.0,778.7 L308.0,777.1 L308.0,776.1 L308.0,774.8 L308.0,773.8 L308.0,773.3 L308.0,771.7 L308.0,771.1 L308.0,769.5 L308.0,768.4 L308.3,767.2 L308.6,765.8 L308.7,767.4 L308.7,768.5 L308.8,769.2 L308.8,770.9 L308.9,772.1 L308.9,773.0 L309.0,774.5 L309.1,772.9 L309.1,772.5 L309.2,770.9 L309.3,769.5 L309.4,768.5 L309.5,767.1 L309.5,766.5 L309.6,765.0 L309.7,766.2 L309.7,767.0 L309.8,768.9 L309.9,769.4 L310.0,770.8 L310.0,771.8 L310.1,773.6 L310.2,774.3 L310.2,775.8 L310.3,777.0 L310.4,775.5 L310.4,774.8 L310.5,773.8 L310.5,772.6 L310.6,771.4 L310.6,770.3 L310.7,769.2 L310.7,768.2 L310.8,766.7 L310.8,765.9 L310.9,764.8 L311.0,765.7 L311.0,767.4 L311.1,768.6 L311.1,768.9 L311.2,770.1 L311.2,771.8 L311.3,772.8 L311.3,773.4 L311.4,775.2 L311.4,776.5 L311.5,777.2 L311.5,778.2 L311.6,779.5 L311.7,778.4 L311.7,777.6 L311.8,775.8 L311.8,774.7 L311.9,773.4 L312.0,772.6 L312.0,771.3 L312.1,769.9 L312.1,768.9 L312.2,767.4 L312.2,766.5 L312.3,765.5 L312.4,767.0 L312.4,767.8 L312.5,768.7 L312.5,770.4 L312.6,770.9 L312.6,772.0 L312.7,772.9 L312.7,774.1 L312.8,775.3 L312.8,776.4 L312.9,778.1 L312.9,778.7 L313.0,780.0 L313.1,778.6 L313.1,777.8 L313.2,777.0 L313.3,775.3 L313.3,774.6 L313.4,773.1 L313.4,772.1 L313.5,771.0 L313.6,770.2 L313.6,768.9 L313.7,767.5 L313.8,768.7 L313.9,770.1 L314.0,770.8 L314.1,772.0 L314.2,773.6 L314.3,774.4 L314.4,775.5 L315.3,777.5 L315.7,779.1 L316.1,780.2 L316.3,781.3 L316.4,783.0 L316.6,784.0 L316.7,784.9 L316.9,786.7 L317.0,787.5 L317.2,788.8 L317.7,787.6 L318.3,786.5 L318.8,785.6 L319.2,786.3 L319.6,787.5 L320.0,789.0 L320.4,789.9 L321.9,791.2 L323.8,791.8 L324.8,790.3 L325.8,789.5 L326.5,788.2 L327.1,787.3 L327.8,786.2 L328.3,785.2 L328.8,784.0 L329.2,783.3 L329.7,782.0 L330.4,780.5 L331.0,779.3 L331.7,778.1 L332.4,776.7 L333.0,775.1 L333.7,774.1 L334.7,772.9 L335.6,772.2 L336.6,772.8 L337.6,774.1 L338.3,775.6 L338.9,776.4 L339.6,778.1 L340.2,779.3 L340.9,780.0 L341.5,781.3 L342.5,782.3 L343.5,783.0 L344.5,782.3 L345.5,781.3 L346.4,780.1 L347.4,779.0 L348.1,778.2 L348.7,776.8 L349.4,775.4 L349.9,774.3 L350.4,772.7 L350.9,771.9 L351.4,770.9 L351.8,769.6 L352.3,768.7 L352.8,768.1 L353.3,766.6 L354.0,765.6 L354.6,763.6 L355.3,762.7 L356.3,761.5 L357.3,760.0 L358.2,759.6 L359.2,758.4 L361.2,759.4 L363.1,759.1 L365.1,759.4 L366.1,758.6 L367.1,757.8 L368.1,756.6 L369.0,756.1 L370.0,755.6 L371.0,754.5 L373.0,753.5 L374.0,752.6 L374.9,751.9 L375.9,751.5 L376.9,750.2 L377.6,749.5 L378.2,748.3 L378.9,746.9 L379.8,746.2 L380.8,744.7 L381.8,743.0 L382.8,742.0 L383.8,741.0 L384.8,739.4 L385.7,738.1 L386.7,737.1 L387.7,735.6 L388.7,734.8 L389.7,733.9 L390.7,733.2 L392.6,732.9 L394.6,731.9 L396.6,731.6 L398.5,732.2 L400.5,731.6 L402.4,732.2 L404.4,732.2 L406.4,731.6 L408.3,730.6 L410.3,729.6 L411.3,729.0 L412.3,728.3 L414.2,727.3 L416.2,726.3 L418.2,725.7 L420.1,725.0 L422.1,725.0 L424.1,724.0 L426.0,723.7 L428.0,723.4 L430.0,723.4 L431.9,723.4 L433.9,723.0 L435.9,722.4 L437.8,721.7 L439.8,720.7 L440.8,719.6 L441.7,719.4 L443.7,718.5 L444.7,717.8 L445.7,717.1 L447.6,716.2 L448.6,715.8 L449.6,714.8 L450.6,714.2 L451.6,713.5 L453.5,712.6 L454.5,711.9 L455.5,711.2 L456.5,710.2 L457.5,709.6 L458.5,709.2 L459.4,708.0 L460.4,706.8 L461.4,706.0 L462.4,705.2 L463.4,704.0 L464.3,703.2 L465.3,702.1 L466.3,700.6 L467.3,700.1 L468.3,699.4 L469.3,697.8 L470.2,696.4 L471.2,695.5 L472.2,694.7 L473.2,692.9 L474.2,692.0 L475.2,690.3 L475.8,689.7 L476.5,688.6 L477.1,687.3 L478.1,685.9 L479.1,684.7 L480.1,683.4 L481.1,682.1 L482.0,680.8 L483.0,679.8 L484.0,678.9 L485.0,677.2 L486.0,675.6 L486.9,674.9 L487.7,673.7 L488.4,673.7 L489.2,672.7 L489.9,671.6 L490.6,670.8 L491.2,670.1 L491.9,668.7 L492.6,668.0 L493.3,666.7 L494.1,665.7 L494.9,665.1 L495.7,663.4 L496.6,662.8 L497.4,661.8 L498.2,661.0 L499.0,660.3 L499.8,659.2 L500.6,658.4 L501.5,657.9 L502.3,657.4 L503.1,656.2 L504.2,655.3 L505.3,654.2 L506.4,653.6 L507.5,652.5 L508.6,652.6 L509.7,651.6 L510.7,651.0 L511.8,650.2 L512.9,649.7 L514.0,649.1 L515.1,648.2 L516.2,648.0 L517.3,647.2 L518.4,646.7 L519.5,646.4 L520.6,645.9 L521.7,646.1 L522.8,645.4 L524.0,644.8 L525.2,644.2 L526.4,644.5 L527.7,643.8 L528.9,643.5 L530.1,642.7 L531.3,643.0 L532.6,642.5 L533.8,642.3 L535.0,641.9 L536.3,641.7 L537.5,641.2 L538.7,640.8 L539.9,640.3 L541.2,640.4 L542.4,639.8 L543.6,639.7 L544.9,639.5 L546.1,638.8 L547.3,638.9 L548.5,638.5 L549.8,638.5 L551.0,638.0 L552.2,637.9 L553.5,637.8 L554.7,637.5 L555.9,637.6 L557.1,637.2 L558.4,636.9 L559.6,636.9 L560.8,637.0 L562.1,636.6 L563.4,636.3 L564.7,636.1 L566.0,636.5 L567.3,636.0 L568.6,636.2 L569.9,636.5 L571.2,635.9 L572.5,636.4 L573.8,636.0 L575.2,635.9 L576.3,635.8 L577.4,636.0 L578.5,635.9 L579.6,636.0 L580.7,636.6 L581.8,636.0 L582.9,636.0 L584.0,636.0 L585.1,635.9 L586.2,636.0 L587.3,635.9 L588.4,635.9 L589.5,635.9 L590.6,635.1 L591.7,635.9 L592.8,636.0 L594.0,636.0 L595.1,635.9 L596.2,635.8 L597.3,635.9 L598.4,636.0 L599.5,636.0 L600.6,635.9 L601.7,635.9 L602.8,636.0 L603.9,635.9 L605.0,636.0 L606.1,636.0 L607.2,636.0 L608.3,635.9 L609.4,636.0 L610.5,635.9 L611.6,635.9 L612.7,636.0 L613.9,635.9 L615.0,635.9 L616.1,635.9 L617.2,636.0 L618.3,635.8 L619.4,635.8 L620.5,635.9 L621.6,635.8 L622.7,636.0 L623.8,636.0 L624.9,635.9 L626.0,635.9 L627.1,636.0 L628.2,636.0 L629.3,636.0 L630.4,636.0 L631.5,636.0 L632.6,635.9 L633.8,635.9 L634.9,635.8 L636.0,635.9 L637.1,635.9 L638.2,636.5 L639.3,636.0 L640.4,635.8 L641.5,635.9 L642.6,635.8 L643.7,635.9 L644.8,635.9 L645.9,635.9 L647.0,635.9 L648.1,636.0 L649.2,635.8 L650.3,636.0 L651.4,636.0 L652.6,635.9 L653.7,635.9 L654.8,635.9 L655.9,635.9 L657.0,636.0 L658.1,635.9 L659.2,635.8 L660.3,636.0 L661.4,635.8 L662.5,635.9 L663.6,636.0 L664.7,635.8 L665.8,636.0 L666.9,635.8 L668.0,635.9 L669.1,635.9 L670.2,636.0 L671.3,635.9 L672.5,635.9 L673.6,635.9 L674.7,635.9 L675.8,635.9 L676.9,636.0 L678.0,636.0 L679.1,635.9 L680.2,635.8 L681.3,635.8 L682.4,635.9 L683.5,635.9 L684.6,636.0 L685.7,635.9 L686.8,636.0 L687.9,635.8 L689.0,636.6 L690.1,635.8 L691.2,635.8 L692.4,635.9 L693.5,635.9 L694.6,636.0 L695.7,636.6 L696.8,635.9 L697.9,635.8 L699.0,636.0 L700.1,635.9 L701.2,635.8 L702.3,635.8 L703.4,635.9 L704.5,635.9 L705.6,635.9 L706.7,636.0 L707.8,635.9 L708.9,636.0 L710.0,635.9 L711.2,635.9 L712.3,635.8 L713.4,635.9 L714.5,635.9 L715.6,635.9 L716.7,636.0 L717.8,636.0 L718.9,635.8 L720.0,635.9 L721.1,635.9 L722.2,635.9" fill="none" stroke="#0566bd" stroke-width="2.45" stroke-linejoin="round" stroke-linecap="round"/>
</g>
<path d="M635.15,702.1 h19.6" stroke="#ff0000" stroke-width="2.45" stroke-linecap="round"/>
<path d="M635.15,727.3 h20.3" stroke="#0566bd" stroke-width="2.45" stroke-linecap="round"/>
<text class="lg" font-size="17.4" x="664.6" y="707.6">G<tspan class="sb" dy="3.5">4</tspan><tspan dy="-3.5">BPO</tspan><tspan class="sb" dy="3.5">64</tspan></text>
<text class="lg" font-size="17.1" x="658.7" y="734">water</text>
</g>
</svg></body></html>
